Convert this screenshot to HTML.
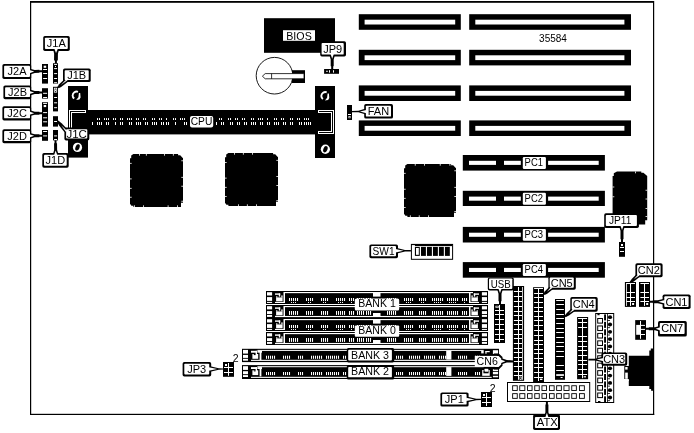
<!DOCTYPE html>
<html><head><meta charset="utf-8"><title>Motherboard layout</title>
<style>
html,body{margin:0;padding:0;background:#fff;}
body{width:694px;height:433px;overflow:hidden;font-family:"Liberation Sans",sans-serif;}
svg{display:block;will-change:transform;filter:grayscale(1)}
svg text{font-family:"Liberation Sans",sans-serif;fill:#000;}
</style></head><body>
<svg width="694" height="433" viewBox="0 0 694 433" shape-rendering="auto">
<rect x="0" y="0" width="694" height="433" fill="#fff"/>
<rect x="30.00" y="1.00" width="624.00" height="1.80" fill="#000" />
<rect x="30.00" y="1.00" width="1.20" height="414.00" fill="#000" />
<rect x="653.00" y="1.00" width="1.20" height="414.00" fill="#000" />
<rect x="30.00" y="413.80" width="624.20" height="1.20" fill="#000" />
<rect x="358.80" y="14.20" width="102.00" height="15.60" fill="#000" />
<rect x="364.60" y="19.70" width="90.60" height="4.80" fill="#fff" />
<rect x="469.20" y="14.20" width="161.80" height="15.60" fill="#000" />
<rect x="475.30" y="19.70" width="149.10" height="4.80" fill="#fff" />
<rect x="358.80" y="49.80" width="102.00" height="15.60" fill="#000" />
<rect x="364.60" y="55.30" width="90.60" height="4.80" fill="#fff" />
<rect x="469.20" y="49.80" width="161.80" height="15.60" fill="#000" />
<rect x="475.30" y="55.30" width="149.10" height="4.80" fill="#fff" />
<rect x="358.80" y="85.40" width="102.00" height="15.60" fill="#000" />
<rect x="364.60" y="90.90" width="90.60" height="4.80" fill="#fff" />
<rect x="469.20" y="85.40" width="161.80" height="15.60" fill="#000" />
<rect x="475.30" y="90.90" width="149.10" height="4.80" fill="#fff" />
<rect x="358.80" y="120.40" width="102.00" height="15.60" fill="#000" />
<rect x="364.60" y="125.90" width="90.60" height="4.80" fill="#fff" />
<rect x="469.20" y="120.40" width="161.80" height="15.60" fill="#000" />
<rect x="475.30" y="125.90" width="149.10" height="4.80" fill="#fff" />
<text x="553" y="42.3" font-size="10" text-anchor="middle">35584</text>
<rect x="462.80" y="155.00" width="142.10" height="15.60" fill="#000" />
<rect x="469.00" y="160.80" width="27.00" height="4.10" fill="#fff" />
<rect x="504.00" y="160.80" width="16.80" height="4.10" fill="#fff" />
<rect x="548.10" y="160.80" width="50.60" height="4.10" fill="#fff" />
<rect x="522.80" y="157.00" width="23.10" height="11.90" fill="#fff" rx="1.2"/>
<text x="533.8" y="166.00" font-size="11" text-anchor="middle" textLength="18.4" lengthAdjust="spacingAndGlyphs">PC1</text>
<rect x="462.80" y="190.80" width="142.10" height="15.20" fill="#000" />
<rect x="469.00" y="196.60" width="27.00" height="4.10" fill="#fff" />
<rect x="504.00" y="196.60" width="16.80" height="4.10" fill="#fff" />
<rect x="548.10" y="196.60" width="50.60" height="4.10" fill="#fff" />
<rect x="522.80" y="192.80" width="23.10" height="11.90" fill="#fff" rx="1.2"/>
<text x="533.8" y="201.80" font-size="11" text-anchor="middle" textLength="18.4" lengthAdjust="spacingAndGlyphs">PC2</text>
<rect x="462.80" y="226.90" width="142.10" height="15.60" fill="#000" />
<rect x="469.00" y="232.70" width="27.00" height="4.10" fill="#fff" />
<rect x="504.00" y="232.70" width="16.80" height="4.10" fill="#fff" />
<rect x="548.10" y="232.70" width="50.60" height="4.10" fill="#fff" />
<rect x="522.80" y="228.90" width="23.10" height="11.90" fill="#fff" rx="1.2"/>
<text x="533.8" y="237.90" font-size="11" text-anchor="middle" textLength="18.4" lengthAdjust="spacingAndGlyphs">PC3</text>
<rect x="462.80" y="262.10" width="142.10" height="15.60" fill="#000" />
<rect x="469.00" y="267.90" width="27.00" height="4.10" fill="#fff" />
<rect x="504.00" y="267.90" width="16.80" height="4.10" fill="#fff" />
<rect x="548.10" y="267.90" width="50.60" height="4.10" fill="#fff" />
<rect x="522.80" y="264.10" width="23.10" height="11.90" fill="#fff" rx="1.2"/>
<text x="533.8" y="273.10" font-size="11" text-anchor="middle" textLength="18.4" lengthAdjust="spacingAndGlyphs">PC4</text>
<polygon points="133.4,154.0 178.1,154.0 178.1,155.2 180.2,155.2 183.0,158.2 183.0,202.8 181.0,202.8 181.0,207.0 133.4,207.0 133.4,205.8 131.4,205.8 130.0,203.8 130.0,158.2 131.2,158.2 131.2,155.6" fill="#000"/>
<rect x="139.00" y="153.90" width="0.80" height="1.80" fill="#fff" />
<rect x="145.90" y="153.90" width="0.80" height="1.80" fill="#fff" />
<rect x="164.00" y="153.90" width="0.80" height="1.80" fill="#fff" />
<rect x="172.90" y="153.90" width="0.80" height="1.80" fill="#fff" />
<rect x="134.10" y="205.30" width="0.80" height="1.80" fill="#fff" />
<rect x="143.00" y="205.30" width="0.80" height="1.80" fill="#fff" />
<rect x="167.70" y="205.30" width="0.80" height="1.80" fill="#fff" />
<rect x="177.00" y="205.30" width="0.80" height="1.80" fill="#fff" />
<rect x="129.90" y="162.90" width="1.80" height="0.80" fill="#fff" />
<rect x="129.90" y="178.50" width="1.80" height="0.80" fill="#fff" />
<rect x="129.90" y="187.90" width="1.80" height="0.80" fill="#fff" />
<rect x="129.90" y="196.80" width="1.80" height="0.80" fill="#fff" />
<rect x="181.30" y="160.40" width="1.80" height="0.80" fill="#fff" />
<rect x="181.30" y="176.90" width="1.80" height="0.80" fill="#fff" />
<rect x="181.30" y="185.80" width="1.80" height="0.80" fill="#fff" />
<rect x="181.30" y="200.80" width="1.80" height="0.80" fill="#fff" />
<polygon points="228.4,153.0 273.1,153.0 273.1,154.2 275.2,154.2 278.0,157.2 278.0,201.8 276.0,201.8 276.0,206.0 228.4,206.0 228.4,204.8 226.4,204.8 225.0,202.8 225.0,157.2 226.2,157.2 226.2,154.6" fill="#000"/>
<rect x="234.00" y="152.90" width="0.80" height="1.80" fill="#fff" />
<rect x="242.90" y="152.90" width="0.80" height="1.80" fill="#fff" />
<rect x="252.10" y="152.90" width="0.80" height="1.80" fill="#fff" />
<rect x="238.00" y="204.30" width="0.80" height="1.80" fill="#fff" />
<rect x="246.90" y="204.30" width="0.80" height="1.80" fill="#fff" />
<rect x="256.10" y="204.30" width="0.80" height="1.80" fill="#fff" />
<rect x="224.90" y="162.00" width="1.80" height="0.80" fill="#fff" />
<rect x="224.90" y="177.70" width="1.80" height="0.80" fill="#fff" />
<rect x="224.90" y="186.90" width="1.80" height="0.80" fill="#fff" />
<rect x="224.90" y="196.00" width="1.80" height="0.80" fill="#fff" />
<rect x="276.30" y="159.90" width="1.80" height="0.80" fill="#fff" />
<rect x="276.30" y="176.10" width="1.80" height="0.80" fill="#fff" />
<rect x="276.30" y="185.00" width="1.80" height="0.80" fill="#fff" />
<rect x="276.30" y="200.30" width="1.80" height="0.80" fill="#fff" />
<polygon points="407.4,164.0 451.1,164.0 451.1,165.2 453.2,165.2 456.0,168.2 456.0,212.8 454.0,212.8 454.0,217.0 407.4,217.0 407.4,215.8 405.4,215.8 404.0,213.8 404.0,168.2 405.2,168.2 405.2,165.6" fill="#000"/>
<rect x="414.80" y="163.90" width="0.80" height="1.80" fill="#fff" />
<rect x="424.00" y="163.90" width="0.80" height="1.80" fill="#fff" />
<rect x="439.80" y="163.90" width="0.80" height="1.80" fill="#fff" />
<rect x="449.50" y="163.90" width="0.80" height="1.80" fill="#fff" />
<rect x="409.90" y="215.30" width="0.80" height="1.80" fill="#fff" />
<rect x="418.80" y="215.30" width="0.80" height="1.80" fill="#fff" />
<rect x="428.00" y="215.30" width="0.80" height="1.80" fill="#fff" />
<rect x="403.90" y="172.90" width="1.80" height="0.80" fill="#fff" />
<rect x="403.90" y="188.80" width="1.80" height="0.80" fill="#fff" />
<rect x="403.90" y="197.90" width="1.80" height="0.80" fill="#fff" />
<rect x="403.90" y="207.10" width="1.80" height="0.80" fill="#fff" />
<rect x="454.30" y="170.40" width="1.80" height="0.80" fill="#fff" />
<rect x="454.30" y="186.90" width="1.80" height="0.80" fill="#fff" />
<rect x="454.30" y="196.10" width="1.80" height="0.80" fill="#fff" />
<rect x="454.30" y="211.10" width="1.80" height="0.80" fill="#fff" />
<polygon points="617.0,171.6 641.3,171.6 641.3,172.8 643.4,172.8 647.2,176.0 647.2,220.2 645.2,220.2 645.2,224.6 617.0,224.6 617.0,223.4 614.0,223.4 612.6,221.2 612.6,176.0 613.8,176.0 613.8,173.2" fill="#000"/>
<rect x="635.20" y="171.50" width="0.80" height="1.80" fill="#fff" />
<rect x="612.50" y="186.60" width="1.80" height="0.80" fill="#fff" />
<rect x="612.50" y="196.40" width="1.80" height="0.80" fill="#fff" />
<rect x="645.50" y="189.80" width="1.80" height="0.80" fill="#fff" />
<rect x="645.50" y="198.60" width="1.80" height="0.80" fill="#fff" />
<rect x="645.50" y="208.00" width="1.80" height="0.80" fill="#fff" />
<rect x="645.50" y="216.20" width="1.80" height="0.80" fill="#fff" />
<rect x="264.00" y="18.20" width="71.00" height="34.60" fill="#000" />
<rect x="283.00" y="30.20" width="32.00" height="10.60" fill="#fff" />
<text x="299" y="39.6" font-size="11" text-anchor="middle" textLength="25.5" lengthAdjust="spacingAndGlyphs">BIOS</text>
<circle cx="274.5" cy="75.7" r="18.3" fill="#fff" stroke="#000" stroke-width="0.9"/>
<rect x="292.00" y="70.20" width="13.00" height="12.80" fill="#000" />
<polygon points="262.4,76.2 265.2,73.6 304,73.6 304,78.8 265.2,78.8" fill="#fff" stroke="#000" stroke-width="0.8"/>
<line x1="271.6" y1="73.6" x2="271.6" y2="78.8" stroke="#000" stroke-width="0.8"/>
<rect x="68.00" y="86.00" width="20.00" height="71.60" fill="#000" />
<rect x="315.00" y="86.00" width="20.00" height="72.00" fill="#000" />
<rect x="87.00" y="110.00" width="229.00" height="24.40" fill="#000" />
<path d="M78.0,91.8 A4,4.2 0 0 0 72.60000000000001,95.5 A4,4 0 0 0 74.2,98.6" fill="none" stroke="#fff" stroke-width="1.9"/>
<polygon points="80.2,93.0 80.6,97.6 79.4,99.6 76.2,100.0 78.4,97.2 78.9,93.0" fill="#fff"/>
<ellipse cx="77.5" cy="147.4" rx="4.6" ry="4.7" fill="#fff"/>
<ellipse cx="77.5" cy="147.4" rx="2.0" ry="3.3" transform="rotate(22 77.5 147.4)" fill="#000"/>
<path d="M326.70000000000005,92.3 A4,4.2 0 0 0 321.3,96.0 A4,4 0 0 0 322.90000000000003,99.1" fill="none" stroke="#fff" stroke-width="1.9"/>
<polygon points="328.9,93.5 329.3,98.1 328.1,100.1 324.9,100.5 327.1,97.7 327.6,93.5" fill="#fff"/>
<ellipse cx="325.4" cy="149.3" rx="4.6" ry="4.7" fill="#fff"/>
<ellipse cx="325.4" cy="149.3" rx="2.0" ry="3.3" transform="rotate(22 325.4 149.3)" fill="#000"/>
<rect x="69.00" y="110.00" width="17.00" height="1.00" fill="#fff" />
<rect x="69.00" y="110.00" width="1.00" height="24.00" fill="#fff" />
<rect x="71.00" y="112.00" width="15.00" height="1.00" fill="#fff" />
<rect x="71.00" y="112.00" width="1.00" height="22.00" fill="#fff" />
<rect x="85.00" y="110.00" width="1.00" height="3.00" fill="#fff" />
<rect x="318.00" y="110.00" width="16.00" height="1.00" fill="#fff" />
<rect x="333.00" y="110.00" width="1.00" height="24.00" fill="#fff" />
<rect x="318.00" y="133.00" width="16.00" height="1.00" fill="#fff" />
<rect x="318.00" y="112.00" width="14.00" height="1.00" fill="#fff" />
<rect x="331.00" y="112.00" width="1.00" height="20.00" fill="#fff" />
<rect x="318.00" y="131.00" width="14.00" height="1.00" fill="#fff" />
<rect x="318.00" y="110.00" width="1.00" height="3.00" fill="#fff" />
<rect x="318.00" y="131.00" width="1.00" height="3.00" fill="#fff" />
<rect x="97.00" y="118.10" width="1.00" height="1.90" fill="#fff" />
<rect x="99.00" y="118.10" width="1.00" height="1.90" fill="#fff" />
<rect x="104.00" y="118.10" width="1.00" height="1.90" fill="#fff" />
<rect x="106.00" y="118.10" width="1.00" height="1.90" fill="#fff" />
<rect x="108.00" y="118.10" width="1.00" height="1.90" fill="#fff" />
<rect x="113.00" y="118.10" width="1.00" height="1.90" fill="#fff" />
<rect x="115.00" y="118.10" width="1.00" height="1.90" fill="#fff" />
<rect x="120.00" y="118.10" width="1.00" height="1.90" fill="#fff" />
<rect x="122.00" y="118.10" width="1.00" height="1.90" fill="#fff" />
<rect x="127.00" y="118.10" width="1.00" height="1.90" fill="#fff" />
<rect x="129.00" y="118.10" width="1.00" height="1.90" fill="#fff" />
<rect x="131.00" y="118.10" width="1.00" height="1.90" fill="#fff" />
<rect x="136.00" y="118.10" width="1.00" height="1.90" fill="#fff" />
<rect x="138.00" y="118.10" width="1.00" height="1.90" fill="#fff" />
<rect x="143.00" y="118.10" width="1.00" height="1.90" fill="#fff" />
<rect x="145.00" y="118.10" width="1.00" height="1.90" fill="#fff" />
<rect x="152.00" y="118.10" width="1.00" height="1.90" fill="#fff" />
<rect x="154.00" y="118.10" width="1.00" height="1.90" fill="#fff" />
<rect x="159.00" y="118.10" width="1.00" height="1.90" fill="#fff" />
<rect x="161.00" y="118.10" width="1.00" height="1.90" fill="#fff" />
<rect x="166.00" y="118.10" width="1.00" height="1.90" fill="#fff" />
<rect x="173.00" y="118.10" width="1.00" height="1.90" fill="#fff" />
<rect x="175.00" y="118.10" width="1.00" height="1.90" fill="#fff" />
<rect x="180.00" y="118.10" width="1.00" height="1.90" fill="#fff" />
<rect x="182.00" y="118.10" width="1.00" height="1.90" fill="#fff" />
<rect x="184.00" y="118.10" width="1.00" height="1.90" fill="#fff" />
<rect x="219.00" y="118.10" width="1.00" height="1.90" fill="#fff" />
<rect x="221.00" y="118.10" width="1.00" height="1.90" fill="#fff" />
<rect x="228.00" y="118.10" width="1.00" height="1.90" fill="#fff" />
<rect x="230.00" y="118.10" width="1.00" height="1.90" fill="#fff" />
<rect x="235.00" y="118.10" width="1.00" height="1.90" fill="#fff" />
<rect x="237.00" y="118.10" width="1.00" height="1.90" fill="#fff" />
<rect x="242.00" y="118.10" width="1.00" height="1.90" fill="#fff" />
<rect x="244.00" y="118.10" width="1.00" height="1.90" fill="#fff" />
<rect x="251.00" y="118.10" width="1.00" height="1.90" fill="#fff" />
<rect x="253.00" y="118.10" width="1.00" height="1.90" fill="#fff" />
<rect x="258.00" y="118.10" width="1.00" height="1.90" fill="#fff" />
<rect x="260.00" y="118.10" width="1.00" height="1.90" fill="#fff" />
<rect x="262.00" y="118.10" width="1.00" height="1.90" fill="#fff" />
<rect x="267.00" y="118.10" width="1.00" height="1.90" fill="#fff" />
<rect x="274.00" y="118.10" width="1.00" height="1.90" fill="#fff" />
<rect x="276.00" y="118.10" width="1.00" height="1.90" fill="#fff" />
<rect x="281.00" y="118.10" width="1.00" height="1.90" fill="#fff" />
<rect x="283.00" y="118.10" width="1.00" height="1.90" fill="#fff" />
<rect x="290.00" y="118.10" width="1.00" height="1.90" fill="#fff" />
<rect x="292.00" y="118.10" width="1.00" height="1.90" fill="#fff" />
<rect x="297.00" y="118.10" width="1.00" height="1.90" fill="#fff" />
<rect x="299.00" y="118.10" width="1.00" height="1.90" fill="#fff" />
<rect x="304.00" y="118.10" width="1.00" height="1.90" fill="#fff" />
<rect x="306.00" y="118.10" width="1.00" height="1.90" fill="#fff" />
<rect x="308.00" y="118.10" width="1.00" height="1.90" fill="#fff" />
<rect x="92.00" y="122.00" width="1.00" height="3.00" fill="#fff" />
<rect x="97.00" y="122.00" width="1.00" height="3.00" fill="#fff" />
<rect x="99.00" y="122.00" width="1.00" height="3.00" fill="#fff" />
<rect x="101.00" y="122.00" width="1.00" height="3.00" fill="#fff" />
<rect x="106.00" y="122.00" width="1.00" height="3.00" fill="#fff" />
<rect x="108.00" y="122.00" width="1.00" height="3.00" fill="#fff" />
<rect x="115.00" y="122.00" width="1.00" height="3.00" fill="#fff" />
<rect x="120.00" y="122.00" width="1.00" height="3.00" fill="#fff" />
<rect x="122.00" y="122.00" width="1.00" height="3.00" fill="#fff" />
<rect x="129.00" y="122.00" width="1.00" height="3.00" fill="#fff" />
<rect x="131.00" y="122.00" width="1.00" height="3.00" fill="#fff" />
<rect x="136.00" y="122.00" width="1.00" height="3.00" fill="#fff" />
<rect x="138.00" y="122.00" width="1.00" height="3.00" fill="#fff" />
<rect x="140.00" y="122.00" width="1.00" height="3.00" fill="#fff" />
<rect x="145.00" y="122.00" width="1.00" height="3.00" fill="#fff" />
<rect x="147.00" y="122.00" width="1.00" height="3.00" fill="#fff" />
<rect x="152.00" y="122.00" width="1.00" height="3.00" fill="#fff" />
<rect x="154.00" y="122.00" width="1.00" height="3.00" fill="#fff" />
<rect x="156.00" y="122.00" width="1.00" height="3.00" fill="#fff" />
<rect x="161.00" y="122.00" width="1.00" height="3.00" fill="#fff" />
<rect x="163.00" y="122.00" width="1.00" height="3.00" fill="#fff" />
<rect x="166.00" y="122.00" width="1.00" height="3.00" fill="#fff" />
<rect x="168.00" y="122.00" width="1.00" height="3.00" fill="#fff" />
<rect x="175.00" y="122.00" width="1.00" height="3.00" fill="#fff" />
<rect x="184.00" y="122.00" width="1.00" height="3.00" fill="#fff" />
<rect x="186.00" y="122.00" width="1.00" height="3.00" fill="#fff" />
<rect x="216.00" y="122.00" width="1.00" height="3.00" fill="#fff" />
<rect x="221.00" y="122.00" width="1.00" height="3.00" fill="#fff" />
<rect x="223.00" y="122.00" width="1.00" height="3.00" fill="#fff" />
<rect x="230.00" y="122.00" width="1.00" height="3.00" fill="#fff" />
<rect x="232.00" y="122.00" width="1.00" height="3.00" fill="#fff" />
<rect x="237.00" y="122.00" width="1.00" height="3.00" fill="#fff" />
<rect x="239.00" y="122.00" width="1.00" height="3.00" fill="#fff" />
<rect x="244.00" y="122.00" width="1.00" height="3.00" fill="#fff" />
<rect x="246.00" y="122.00" width="1.00" height="3.00" fill="#fff" />
<rect x="251.00" y="122.00" width="1.00" height="3.00" fill="#fff" />
<rect x="253.00" y="122.00" width="1.00" height="3.00" fill="#fff" />
<rect x="255.00" y="122.00" width="1.00" height="3.00" fill="#fff" />
<rect x="260.00" y="122.00" width="1.00" height="3.00" fill="#fff" />
<rect x="262.00" y="122.00" width="1.00" height="3.00" fill="#fff" />
<rect x="267.00" y="122.00" width="1.00" height="3.00" fill="#fff" />
<rect x="269.00" y="122.00" width="1.00" height="3.00" fill="#fff" />
<rect x="274.00" y="122.00" width="1.00" height="3.00" fill="#fff" />
<rect x="276.00" y="122.00" width="1.00" height="3.00" fill="#fff" />
<rect x="278.00" y="122.00" width="1.00" height="3.00" fill="#fff" />
<rect x="283.00" y="122.00" width="1.00" height="3.00" fill="#fff" />
<rect x="285.00" y="122.00" width="1.00" height="3.00" fill="#fff" />
<rect x="290.00" y="122.00" width="1.00" height="3.00" fill="#fff" />
<rect x="292.00" y="122.00" width="1.00" height="3.00" fill="#fff" />
<rect x="299.00" y="122.00" width="1.00" height="3.00" fill="#fff" />
<rect x="301.00" y="122.00" width="1.00" height="3.00" fill="#fff" />
<rect x="304.00" y="122.00" width="1.00" height="3.00" fill="#fff" />
<rect x="306.00" y="122.00" width="1.00" height="3.00" fill="#fff" />
<rect x="308.00" y="122.00" width="1.00" height="3.00" fill="#fff" />
<rect x="310.00" y="122.00" width="1.00" height="3.00" fill="#fff" />
<rect x="190.00" y="116.00" width="23.20" height="11.60" fill="#fff" rx="2"/>
<text x="201.5" y="124.9" font-size="11" text-anchor="middle" textLength="21.6" lengthAdjust="spacingAndGlyphs">CPU</text>
<rect x="42.00" y="64.00" width="6.00" height="19.60" fill="#000" />
<rect x="43.10" y="69.00" width="4.00" height="1.00" fill="#fff" />
<rect x="43.10" y="73.00" width="4.00" height="1.00" fill="#fff" />
<rect x="43.10" y="78.00" width="4.00" height="1.00" fill="#fff" />
<rect x="43.70" y="65.70" width="2.50" height="2.10" fill="#fff" />
<rect x="42.00" y="88.20" width="6.00" height="10.40" fill="#000" />
<rect x="43.10" y="92.80" width="4.00" height="1.00" fill="#fff" />
<rect x="43.10" y="97.00" width="4.00" height="1.00" fill="#fff" />
<rect x="42.00" y="102.20" width="6.00" height="24.40" fill="#000" />
<rect x="43.10" y="102.90" width="4.00" height="1.00" fill="#fff" />
<rect x="43.10" y="112.10" width="4.00" height="1.00" fill="#fff" />
<rect x="43.10" y="117.30" width="4.00" height="1.00" fill="#fff" />
<rect x="43.10" y="121.30" width="4.00" height="1.00" fill="#fff" />
<rect x="43.70" y="105.00" width="2.50" height="2.10" fill="#fff" />
<rect x="42.00" y="130.00" width="6.00" height="10.80" fill="#000" />
<rect x="43.10" y="131.00" width="4.00" height="1.00" fill="#fff" />
<rect x="43.10" y="135.40" width="4.00" height="1.00" fill="#fff" />
<rect x="53.00" y="63.20" width="5.00" height="20.40" fill="#000" />
<rect x="54.10" y="63.90" width="3.00" height="1.00" fill="#fff" />
<rect x="54.10" y="68.10" width="3.00" height="1.00" fill="#fff" />
<rect x="54.10" y="73.10" width="3.00" height="1.00" fill="#fff" />
<rect x="54.10" y="78.00" width="3.00" height="1.00" fill="#fff" />
<rect x="54.10" y="82.20" width="3.00" height="1.00" fill="#fff" />
<rect x="55.00" y="66.00" width="1.00" height="1.00" fill="#fff" />
<rect x="53.00" y="86.80" width="5.00" height="24.60" fill="#000" />
<rect x="54.10" y="97.00" width="3.00" height="1.00" fill="#fff" />
<rect x="54.10" y="102.30" width="3.00" height="1.00" fill="#fff" />
<rect x="54.10" y="107.20" width="3.00" height="1.00" fill="#fff" />
<rect x="53.90" y="87.80" width="3.20" height="4.80" fill="#fff" />
<rect x="54.70" y="88.60" width="1.60" height="3.20" fill="#000" />
<rect x="55.00" y="89.50" width="1.00" height="1.40" fill="#fff" />
<rect x="53.00" y="116.20" width="5.00" height="10.40" fill="#000" />
<rect x="54.10" y="121.00" width="3.00" height="1.00" fill="#fff" />
<rect x="53.00" y="130.00" width="5.00" height="10.40" fill="#000" />
<rect x="54.10" y="135.40" width="3.00" height="1.00" fill="#fff" />
<rect x="54.10" y="139.00" width="3.00" height="1.00" fill="#fff" />
<polygon points="53.00,48.86 54.13,53.67 54.04,60.47 54.94,60.49 54.90,63.49 56.90,63.51 56.94,60.51 57.84,60.53 57.93,53.73 59.20,48.94" fill="#000"/>
<rect x="43.20" y="36.00" width="26.60" height="14.90" rx="1.7" fill="#000"/>
<rect x="44.90" y="37.70" width="22.90" height="11.20" rx="0.9" fill="#fff"/>
<polygon points="54.31,48.38 56.04,53.10 57.91,48.42" fill="#fff"/>
<text x="56.35" y="47.24" font-size="11" text-anchor="middle">J1A</text>
<polygon points="30.07,74.50 34.83,72.98 39.44,72.87 39.43,72.37 42.42,72.30 42.38,70.30 39.38,70.37 39.36,69.87 34.76,69.98 29.93,68.70" fill="#000"/>
<rect x="2.40" y="64.00" width="28.80" height="15.00" rx="1.7" fill="#000"/>
<rect x="4.10" y="65.80" width="25.90" height="11.10" rx="0.9" fill="#fff"/>
<polygon points="29.54,73.21 34.20,71.50 29.46,70.01" fill="#fff"/>
<text x="17.05" y="75.29" font-size="11" text-anchor="middle">J2A</text>
<polygon points="65.22,78.52 58.93,84.54 57.41,86.92 58.59,88.28 61.16,87.10 67.98,81.68" fill="#000"/>
<rect x="63.00" y="68.50" width="27.70" height="13.60" rx="1.7" fill="#000"/>
<rect x="64.70" y="70.20" width="24.00" height="9.90" rx="0.9" fill="#fff"/>
<polygon points="66.45,79.17 60.95,85.03 67.50,80.37" fill="#fff"/>
<text x="76.70" y="79.09" font-size="11" text-anchor="middle">J1B</text>
<polygon points="30.00,95.40 34.80,94.00 39.40,94.00 39.40,93.50 42.40,93.50 42.40,91.50 39.40,91.50 39.40,91.00 34.80,91.00 30.00,89.60" fill="#000"/>
<rect x="3.40" y="85.40" width="27.80" height="13.80" rx="1.7" fill="#000"/>
<rect x="5.10" y="87.20" width="24.90" height="9.90" rx="0.9" fill="#fff"/>
<polygon points="29.50,94.10 34.20,92.50 29.50,90.90" fill="#fff"/>
<text x="17.55" y="96.09" font-size="11" text-anchor="middle">J2B</text>
<polygon points="30.00,116.10 34.80,114.70 39.40,114.70 39.40,114.20 42.40,114.20 42.40,112.20 39.40,112.20 39.40,111.70 34.80,111.70 30.00,110.30" fill="#000"/>
<rect x="2.40" y="106.20" width="28.80" height="14.20" rx="1.7" fill="#000"/>
<rect x="4.10" y="108.00" width="25.90" height="10.30" rx="0.9" fill="#fff"/>
<polygon points="29.50,114.80 34.20,113.20 29.50,111.60" fill="#fff"/>
<text x="17.05" y="117.09" font-size="11" text-anchor="middle">J2C</text>
<polygon points="30.00,138.70 34.80,137.30 39.40,137.30 39.40,136.80 42.40,136.80 42.40,134.80 39.40,134.80 39.40,134.30 34.80,134.30 30.00,132.90" fill="#000"/>
<rect x="2.40" y="129.30" width="28.80" height="13.90" rx="1.7" fill="#000"/>
<rect x="4.10" y="131.10" width="25.90" height="10.00" rx="0.9" fill="#fff"/>
<polygon points="29.50,137.40 34.20,135.80 29.50,134.20" fill="#fff"/>
<text x="17.05" y="140.04" font-size="11" text-anchor="middle">J2D</text>
<polygon points="67.67,129.41 61.61,123.16 58.27,120.60 56.93,121.80 59.06,125.41 64.53,132.19" fill="#000"/>
<rect x="64.40" y="127.50" width="24.90" height="13.00" rx="1.7" fill="#000"/>
<rect x="66.10" y="129.20" width="21.20" height="9.30" rx="0.9" fill="#fff"/>
<polygon points="67.03,130.64 61.13,125.18 65.83,131.70" fill="#fff"/>
<text x="76.70" y="137.79" font-size="11" text-anchor="middle" textLength="20.5" lengthAdjust="spacingAndGlyphs">J1C</text>
<polygon points="58.60,154.76 57.13,149.98 57.04,143.18 56.54,143.19 56.50,140.19 54.50,140.21 54.54,143.21 54.04,143.22 54.13,150.02 52.80,154.84" fill="#000"/>
<rect x="42.30" y="153.10" width="26.40" height="14.60" rx="1.7" fill="#000"/>
<rect x="44.00" y="154.80" width="22.70" height="10.90" rx="0.9" fill="#fff"/>
<polygon points="57.31,155.28 55.64,150.60 54.11,155.32" fill="#fff"/>
<text x="55.35" y="164.19" font-size="11" text-anchor="middle">J1D</text>
<rect x="324.10" y="69.00" width="14.90" height="4.80" fill="#000" />
<rect x="326.00" y="70.80" width="1.90" height="0.90" fill="#fff" />
<rect x="329.00" y="70.20" width="1.00" height="2.40" fill="#fff" />
<rect x="333.00" y="70.20" width="1.00" height="2.40" fill="#fff" />
<polygon points="329.30,54.60 330.70,59.40 330.70,66.20 331.20,66.20 331.20,69.20 333.20,69.20 333.20,66.20 333.70,66.20 333.70,59.40 335.10,54.60" fill="#000"/>
<rect x="320.20" y="41.20" width="25.80" height="15.30" rx="1.7" fill="#000"/>
<rect x="321.60" y="43.10" width="22.10" height="11.50" rx="0.9" fill="#fff"/>
<polygon points="330.60,54.10 332.20,58.80 333.80,54.10" fill="#fff"/>
<text x="332.65" y="52.79" font-size="11" text-anchor="middle">JP9</text>
<rect x="347.00" y="105.00" width="5.00" height="15.00" fill="#000" />
<rect x="348.00" y="114.00" width="3.00" height="1.00" fill="#fff" />
<rect x="348.50" y="116.00" width="2.00" height="2.20" fill="#fff" />
<rect x="349.10" y="116.70" width="0.80" height="0.90" fill="#000" />
<polygon points="365.90,108.60 358.40,110.85 351.50,110.90 351.50,112.30 358.40,112.35 365.90,114.60" fill="#000"/>
<rect x="364.20" y="104.00" width="28.80" height="14.60" rx="1.7" fill="#000"/>
<rect x="365.90" y="105.70" width="25.10" height="10.90" rx="0.9" fill="#fff"/>
<polygon points="366.40,109.90 359.90,111.60 366.40,113.30" fill="#fff"/>
<text x="378.45" y="115.09" font-size="11" text-anchor="middle">FAN</text>
<rect x="619.00" y="242.00" width="6.00" height="14.80" fill="#000" />
<rect x="621.00" y="244.00" width="2.00" height="2.00" fill="#fff" />
<rect x="620.00" y="247.00" width="4.00" height="1.00" fill="#fff" />
<rect x="620.00" y="251.00" width="4.00" height="1.00" fill="#fff" />
<polygon points="619.10,225.90 620.50,230.70 620.50,239.20 621.00,239.20 621.00,242.20 623.00,242.20 623.00,239.20 623.50,239.20 623.50,230.70 624.90,225.90" fill="#000"/>
<rect x="604.20" y="213.20" width="34.70" height="14.70" rx="1.7" fill="#000"/>
<rect x="605.80" y="215.00" width="31.10" height="10.90" rx="0.9" fill="#fff"/>
<polygon points="620.40,225.40 622.00,230.10 623.60,225.40" fill="#fff"/>
<text x="620.15" y="224.39" font-size="11" text-anchor="middle" textLength="22.5" lengthAdjust="spacingAndGlyphs">JP11</text>
<polygon points="396.02,253.80 405.00,251.49 410.90,251.40 410.90,250.00 404.99,249.99 395.98,247.80" fill="#000"/>
<rect x="369.40" y="244.40" width="28.60" height="13.80" rx="1.7" fill="#000"/>
<rect x="371.10" y="246.10" width="24.90" height="10.10" rx="0.9" fill="#fff"/>
<polygon points="395.51,252.50 403.50,250.75 395.49,249.10" fill="#fff"/>
<text x="383.55" y="255.09" font-size="11" text-anchor="middle" textLength="22" lengthAdjust="spacingAndGlyphs">SW1</text>
<rect x="410.90" y="243.90" width="42.20" height="15.90" fill="#000" />
<rect x="411.90" y="245.10" width="40.20" height="13.70" fill="#fff" />
<rect x="414.90" y="245.00" width="37.20" height="1.10" fill="#000" />
<rect x="414.90" y="246.90" width="4.90" height="9.00" fill="#000" />
<rect x="416.00" y="248.00" width="2.80" height="6.80" fill="#fff" />
<rect x="421.00" y="246.90" width="4.90" height="9.00" fill="#000" />
<rect x="426.98" y="246.90" width="4.90" height="9.00" fill="#000" />
<rect x="432.96" y="246.90" width="4.90" height="9.00" fill="#000" />
<rect x="438.94" y="246.90" width="4.90" height="9.00" fill="#000" />
<rect x="444.92" y="246.90" width="4.90" height="9.00" fill="#000" />
<rect x="266.00" y="291.00" width="222.00" height="13.00" fill="#000" />
<rect x="267.00" y="292.20" width="5.10" height="3.30" fill="#fff" />
<rect x="481.90" y="292.20" width="5.10" height="3.30" fill="#fff" />
<rect x="267.00" y="297.10" width="5.10" height="3.80" fill="#fff" />
<rect x="481.90" y="297.10" width="5.10" height="3.80" fill="#fff" />
<rect x="267.00" y="301.90" width="5.10" height="1.05" fill="#fff" />
<rect x="481.90" y="301.90" width="5.10" height="1.05" fill="#fff" />
<rect x="275.00" y="293.40" width="5.20" height="1.40" fill="#fff" />
<rect x="278.80" y="293.40" width="1.40" height="3.20" fill="#fff" />
<rect x="276.10" y="297.40" width="6.50" height="3.90" fill="#fff" />
<rect x="276.10" y="296.30" width="1.30" height="1.20" fill="#fff" />
<rect x="281.30" y="295.40" width="1.30" height="2.10" fill="#fff" />
<rect x="275.00" y="301.90" width="10.00" height="1.10" fill="#fff" />
<rect x="283.50" y="293.00" width="1.50" height="10.00" fill="#fff" />
<rect x="473.80" y="293.40" width="5.20" height="1.40" fill="#fff" />
<rect x="473.80" y="293.40" width="1.40" height="3.20" fill="#fff" />
<rect x="471.40" y="297.40" width="6.50" height="3.90" fill="#fff" />
<rect x="476.60" y="296.30" width="1.30" height="1.20" fill="#fff" />
<rect x="471.40" y="295.40" width="1.30" height="2.10" fill="#fff" />
<rect x="469.00" y="301.90" width="10.00" height="1.10" fill="#fff" />
<rect x="469.00" y="293.00" width="1.50" height="10.00" fill="#fff" />
<rect x="283.50" y="292.00" width="189.50" height="1.15" fill="#fff" />
<rect x="373.00" y="293.00" width="7.50" height="3.60" fill="#fff" />
<rect x="289.00" y="298.00" width="1.05" height="3.00" fill="#fff" />
<rect x="291.00" y="298.00" width="1.05" height="3.00" fill="#fff" />
<rect x="291.00" y="301.95" width="1.00" height="1.00" fill="#fff" />
<rect x="293.00" y="298.00" width="1.05" height="3.00" fill="#fff" />
<rect x="293.00" y="301.95" width="1.00" height="1.00" fill="#fff" />
<rect x="295.00" y="298.00" width="1.05" height="3.00" fill="#fff" />
<rect x="295.00" y="301.95" width="1.00" height="1.00" fill="#fff" />
<rect x="297.00" y="298.00" width="1.05" height="3.00" fill="#fff" />
<rect x="306.00" y="298.00" width="1.05" height="3.00" fill="#fff" />
<rect x="308.00" y="298.00" width="1.05" height="3.00" fill="#fff" />
<rect x="308.00" y="301.95" width="1.00" height="1.00" fill="#fff" />
<rect x="310.00" y="298.00" width="1.05" height="3.00" fill="#fff" />
<rect x="310.00" y="301.95" width="1.00" height="1.00" fill="#fff" />
<rect x="312.00" y="298.00" width="1.05" height="3.00" fill="#fff" />
<rect x="321.00" y="298.00" width="1.05" height="3.00" fill="#fff" />
<rect x="323.00" y="298.00" width="1.05" height="3.00" fill="#fff" />
<rect x="323.00" y="301.95" width="1.00" height="1.00" fill="#fff" />
<rect x="325.00" y="298.00" width="1.05" height="3.00" fill="#fff" />
<rect x="325.00" y="301.95" width="1.00" height="1.00" fill="#fff" />
<rect x="327.00" y="298.00" width="1.05" height="3.00" fill="#fff" />
<rect x="336.00" y="298.00" width="1.05" height="3.00" fill="#fff" />
<rect x="338.00" y="298.00" width="1.05" height="3.00" fill="#fff" />
<rect x="338.00" y="301.95" width="1.00" height="1.00" fill="#fff" />
<rect x="340.00" y="298.00" width="1.05" height="3.00" fill="#fff" />
<rect x="340.00" y="301.95" width="1.00" height="1.00" fill="#fff" />
<rect x="342.00" y="298.00" width="1.05" height="3.00" fill="#fff" />
<rect x="342.00" y="301.95" width="1.00" height="1.00" fill="#fff" />
<rect x="344.00" y="298.00" width="1.05" height="3.00" fill="#fff" />
<rect x="349.00" y="298.00" width="1.05" height="3.00" fill="#fff" />
<rect x="351.00" y="298.00" width="1.05" height="3.00" fill="#fff" />
<rect x="351.00" y="301.95" width="1.00" height="1.00" fill="#fff" />
<rect x="353.00" y="298.00" width="1.05" height="3.00" fill="#fff" />
<rect x="357.00" y="298.00" width="1.05" height="3.00" fill="#fff" />
<rect x="359.00" y="298.00" width="1.05" height="3.00" fill="#fff" />
<rect x="359.00" y="301.95" width="1.00" height="1.00" fill="#fff" />
<rect x="361.00" y="298.00" width="1.05" height="3.00" fill="#fff" />
<rect x="361.00" y="301.95" width="1.00" height="1.00" fill="#fff" />
<rect x="363.00" y="298.00" width="1.05" height="3.00" fill="#fff" />
<rect x="366.00" y="298.00" width="1.05" height="3.00" fill="#fff" />
<rect x="368.00" y="298.00" width="1.05" height="3.00" fill="#fff" />
<rect x="368.00" y="301.95" width="1.00" height="1.00" fill="#fff" />
<rect x="370.00" y="298.00" width="1.05" height="3.00" fill="#fff" />
<rect x="387.00" y="298.00" width="1.05" height="3.00" fill="#fff" />
<rect x="389.00" y="298.00" width="1.05" height="3.00" fill="#fff" />
<rect x="389.00" y="301.95" width="1.00" height="1.00" fill="#fff" />
<rect x="391.00" y="298.00" width="1.05" height="3.00" fill="#fff" />
<rect x="391.00" y="301.95" width="1.00" height="1.00" fill="#fff" />
<rect x="393.00" y="298.00" width="1.05" height="3.00" fill="#fff" />
<rect x="393.00" y="301.95" width="1.00" height="1.00" fill="#fff" />
<rect x="395.00" y="298.00" width="1.05" height="3.00" fill="#fff" />
<rect x="404.00" y="298.00" width="1.05" height="3.00" fill="#fff" />
<rect x="406.00" y="298.00" width="1.05" height="3.00" fill="#fff" />
<rect x="406.00" y="301.95" width="1.00" height="1.00" fill="#fff" />
<rect x="408.00" y="298.00" width="1.05" height="3.00" fill="#fff" />
<rect x="408.00" y="301.95" width="1.00" height="1.00" fill="#fff" />
<rect x="410.00" y="298.00" width="1.05" height="3.00" fill="#fff" />
<rect x="410.00" y="301.95" width="1.00" height="1.00" fill="#fff" />
<rect x="412.00" y="298.00" width="1.05" height="3.00" fill="#fff" />
<rect x="419.00" y="298.00" width="1.05" height="3.00" fill="#fff" />
<rect x="421.00" y="298.00" width="1.05" height="3.00" fill="#fff" />
<rect x="421.00" y="301.95" width="1.00" height="1.00" fill="#fff" />
<rect x="423.00" y="298.00" width="1.05" height="3.00" fill="#fff" />
<rect x="423.00" y="301.95" width="1.00" height="1.00" fill="#fff" />
<rect x="425.00" y="298.00" width="1.05" height="3.00" fill="#fff" />
<rect x="432.00" y="298.00" width="1.05" height="3.00" fill="#fff" />
<rect x="434.00" y="298.00" width="1.05" height="3.00" fill="#fff" />
<rect x="434.00" y="301.95" width="1.00" height="1.00" fill="#fff" />
<rect x="436.00" y="298.00" width="1.05" height="3.00" fill="#fff" />
<rect x="436.00" y="301.95" width="1.00" height="1.00" fill="#fff" />
<rect x="438.00" y="298.00" width="1.05" height="3.00" fill="#fff" />
<rect x="438.00" y="301.95" width="1.00" height="1.00" fill="#fff" />
<rect x="440.00" y="298.00" width="1.05" height="3.00" fill="#fff" />
<rect x="440.00" y="301.95" width="1.00" height="1.00" fill="#fff" />
<rect x="442.00" y="298.00" width="1.05" height="3.00" fill="#fff" />
<rect x="447.00" y="298.00" width="1.05" height="3.00" fill="#fff" />
<rect x="449.00" y="298.00" width="1.05" height="3.00" fill="#fff" />
<rect x="449.00" y="301.95" width="1.00" height="1.00" fill="#fff" />
<rect x="451.00" y="298.00" width="1.05" height="3.00" fill="#fff" />
<rect x="451.00" y="301.95" width="1.00" height="1.00" fill="#fff" />
<rect x="453.00" y="298.00" width="1.05" height="3.00" fill="#fff" />
<rect x="453.00" y="301.95" width="1.00" height="1.00" fill="#fff" />
<rect x="455.00" y="298.00" width="1.05" height="3.00" fill="#fff" />
<rect x="455.00" y="301.95" width="1.00" height="1.00" fill="#fff" />
<rect x="457.00" y="298.00" width="1.05" height="3.00" fill="#fff" />
<rect x="462.00" y="298.00" width="1.05" height="3.00" fill="#fff" />
<rect x="464.00" y="298.00" width="1.05" height="3.00" fill="#fff" />
<rect x="464.00" y="301.95" width="1.00" height="1.00" fill="#fff" />
<rect x="466.00" y="298.00" width="1.05" height="3.00" fill="#fff" />
<rect x="266.00" y="305.00" width="222.00" height="13.00" fill="#000" />
<rect x="267.00" y="306.20" width="5.10" height="3.20" fill="#fff" />
<rect x="481.90" y="306.20" width="5.10" height="3.20" fill="#fff" />
<rect x="267.00" y="311.10" width="5.10" height="2.90" fill="#fff" />
<rect x="481.90" y="311.10" width="5.10" height="2.90" fill="#fff" />
<rect x="267.00" y="314.90" width="5.10" height="2.00" fill="#fff" />
<rect x="481.90" y="314.90" width="5.10" height="2.00" fill="#fff" />
<rect x="275.00" y="307.40" width="5.20" height="1.40" fill="#fff" />
<rect x="278.80" y="307.40" width="1.40" height="3.20" fill="#fff" />
<rect x="276.10" y="311.40" width="6.50" height="3.90" fill="#fff" />
<rect x="276.10" y="310.30" width="1.30" height="1.20" fill="#fff" />
<rect x="281.30" y="309.40" width="1.30" height="2.10" fill="#fff" />
<rect x="275.00" y="315.90" width="10.00" height="1.10" fill="#fff" />
<rect x="283.50" y="307.00" width="1.50" height="10.00" fill="#fff" />
<rect x="473.80" y="307.40" width="5.20" height="1.40" fill="#fff" />
<rect x="473.80" y="307.40" width="1.40" height="3.20" fill="#fff" />
<rect x="471.40" y="311.40" width="6.50" height="3.90" fill="#fff" />
<rect x="476.60" y="310.30" width="1.30" height="1.20" fill="#fff" />
<rect x="471.40" y="309.40" width="1.30" height="2.10" fill="#fff" />
<rect x="469.00" y="315.90" width="10.00" height="1.10" fill="#fff" />
<rect x="469.00" y="307.00" width="1.50" height="10.00" fill="#fff" />
<rect x="283.50" y="306.00" width="189.50" height="1.15" fill="#fff" />
<rect x="275.00" y="315.95" width="204.00" height="1.15" fill="#fff" />
<rect x="373.00" y="313.00" width="7.50" height="3.50" fill="#fff" />
<rect x="289.00" y="311.00" width="1.05" height="3.90" fill="#fff" />
<rect x="291.00" y="311.00" width="1.05" height="3.90" fill="#fff" />
<rect x="293.00" y="311.00" width="1.05" height="3.90" fill="#fff" />
<rect x="295.00" y="311.00" width="1.05" height="3.90" fill="#fff" />
<rect x="297.00" y="311.00" width="1.05" height="3.90" fill="#fff" />
<rect x="306.00" y="311.00" width="1.05" height="3.90" fill="#fff" />
<rect x="308.00" y="311.00" width="1.05" height="3.90" fill="#fff" />
<rect x="310.00" y="311.00" width="1.05" height="3.90" fill="#fff" />
<rect x="312.00" y="311.00" width="1.05" height="3.90" fill="#fff" />
<rect x="321.00" y="311.00" width="1.05" height="3.90" fill="#fff" />
<rect x="323.00" y="311.00" width="1.05" height="3.90" fill="#fff" />
<rect x="325.00" y="311.00" width="1.05" height="3.90" fill="#fff" />
<rect x="327.00" y="311.00" width="1.05" height="3.90" fill="#fff" />
<rect x="336.00" y="311.00" width="1.05" height="3.90" fill="#fff" />
<rect x="338.00" y="311.00" width="1.05" height="3.90" fill="#fff" />
<rect x="340.00" y="311.00" width="1.05" height="3.90" fill="#fff" />
<rect x="342.00" y="311.00" width="1.05" height="3.90" fill="#fff" />
<rect x="344.00" y="311.00" width="1.05" height="3.90" fill="#fff" />
<rect x="349.00" y="311.00" width="1.05" height="3.90" fill="#fff" />
<rect x="351.00" y="311.00" width="1.05" height="3.90" fill="#fff" />
<rect x="353.00" y="311.00" width="1.05" height="3.90" fill="#fff" />
<rect x="357.00" y="311.00" width="1.05" height="3.90" fill="#fff" />
<rect x="359.00" y="311.00" width="1.05" height="3.90" fill="#fff" />
<rect x="361.00" y="311.00" width="1.05" height="3.90" fill="#fff" />
<rect x="363.00" y="311.00" width="1.05" height="3.90" fill="#fff" />
<rect x="366.00" y="311.00" width="1.05" height="3.90" fill="#fff" />
<rect x="368.00" y="311.00" width="1.05" height="3.90" fill="#fff" />
<rect x="370.00" y="311.00" width="1.05" height="3.90" fill="#fff" />
<rect x="387.00" y="311.00" width="1.05" height="3.90" fill="#fff" />
<rect x="389.00" y="311.00" width="1.05" height="3.90" fill="#fff" />
<rect x="391.00" y="311.00" width="1.05" height="3.90" fill="#fff" />
<rect x="393.00" y="311.00" width="1.05" height="3.90" fill="#fff" />
<rect x="395.00" y="311.00" width="1.05" height="3.90" fill="#fff" />
<rect x="404.00" y="311.00" width="1.05" height="3.90" fill="#fff" />
<rect x="406.00" y="311.00" width="1.05" height="3.90" fill="#fff" />
<rect x="408.00" y="311.00" width="1.05" height="3.90" fill="#fff" />
<rect x="410.00" y="311.00" width="1.05" height="3.90" fill="#fff" />
<rect x="412.00" y="311.00" width="1.05" height="3.90" fill="#fff" />
<rect x="419.00" y="311.00" width="1.05" height="3.90" fill="#fff" />
<rect x="421.00" y="311.00" width="1.05" height="3.90" fill="#fff" />
<rect x="423.00" y="311.00" width="1.05" height="3.90" fill="#fff" />
<rect x="425.00" y="311.00" width="1.05" height="3.90" fill="#fff" />
<rect x="432.00" y="311.00" width="1.05" height="3.90" fill="#fff" />
<rect x="434.00" y="311.00" width="1.05" height="3.90" fill="#fff" />
<rect x="436.00" y="311.00" width="1.05" height="3.90" fill="#fff" />
<rect x="438.00" y="311.00" width="1.05" height="3.90" fill="#fff" />
<rect x="440.00" y="311.00" width="1.05" height="3.90" fill="#fff" />
<rect x="442.00" y="311.00" width="1.05" height="3.90" fill="#fff" />
<rect x="447.00" y="311.00" width="1.05" height="3.90" fill="#fff" />
<rect x="449.00" y="311.00" width="1.05" height="3.90" fill="#fff" />
<rect x="451.00" y="311.00" width="1.05" height="3.90" fill="#fff" />
<rect x="453.00" y="311.00" width="1.05" height="3.90" fill="#fff" />
<rect x="455.00" y="311.00" width="1.05" height="3.90" fill="#fff" />
<rect x="457.00" y="311.00" width="1.05" height="3.90" fill="#fff" />
<rect x="462.00" y="311.00" width="1.05" height="3.90" fill="#fff" />
<rect x="464.00" y="311.00" width="1.05" height="3.90" fill="#fff" />
<rect x="466.00" y="311.00" width="1.05" height="3.90" fill="#fff" />
<rect x="266.00" y="318.00" width="222.00" height="13.00" fill="#000" />
<rect x="267.00" y="319.20" width="5.10" height="3.30" fill="#fff" />
<rect x="481.90" y="319.20" width="5.10" height="3.30" fill="#fff" />
<rect x="267.00" y="324.10" width="5.10" height="3.80" fill="#fff" />
<rect x="481.90" y="324.10" width="5.10" height="3.80" fill="#fff" />
<rect x="267.00" y="328.90" width="5.10" height="1.05" fill="#fff" />
<rect x="481.90" y="328.90" width="5.10" height="1.05" fill="#fff" />
<rect x="275.00" y="320.40" width="5.20" height="1.40" fill="#fff" />
<rect x="278.80" y="320.40" width="1.40" height="3.20" fill="#fff" />
<rect x="276.10" y="324.40" width="6.50" height="3.90" fill="#fff" />
<rect x="276.10" y="323.30" width="1.30" height="1.20" fill="#fff" />
<rect x="281.30" y="322.40" width="1.30" height="2.10" fill="#fff" />
<rect x="275.00" y="328.90" width="10.00" height="1.10" fill="#fff" />
<rect x="283.50" y="320.00" width="1.50" height="10.00" fill="#fff" />
<rect x="473.80" y="320.40" width="5.20" height="1.40" fill="#fff" />
<rect x="473.80" y="320.40" width="1.40" height="3.20" fill="#fff" />
<rect x="471.40" y="324.40" width="6.50" height="3.90" fill="#fff" />
<rect x="476.60" y="323.30" width="1.30" height="1.20" fill="#fff" />
<rect x="471.40" y="322.40" width="1.30" height="2.10" fill="#fff" />
<rect x="469.00" y="328.90" width="10.00" height="1.10" fill="#fff" />
<rect x="469.00" y="320.00" width="1.50" height="10.00" fill="#fff" />
<rect x="283.50" y="319.00" width="189.50" height="1.15" fill="#fff" />
<rect x="373.00" y="320.00" width="7.50" height="3.60" fill="#fff" />
<rect x="289.00" y="325.00" width="1.05" height="3.00" fill="#fff" />
<rect x="291.00" y="325.00" width="1.05" height="3.00" fill="#fff" />
<rect x="291.00" y="328.95" width="1.00" height="1.00" fill="#fff" />
<rect x="293.00" y="325.00" width="1.05" height="3.00" fill="#fff" />
<rect x="293.00" y="328.95" width="1.00" height="1.00" fill="#fff" />
<rect x="295.00" y="325.00" width="1.05" height="3.00" fill="#fff" />
<rect x="295.00" y="328.95" width="1.00" height="1.00" fill="#fff" />
<rect x="297.00" y="325.00" width="1.05" height="3.00" fill="#fff" />
<rect x="306.00" y="325.00" width="1.05" height="3.00" fill="#fff" />
<rect x="308.00" y="325.00" width="1.05" height="3.00" fill="#fff" />
<rect x="308.00" y="328.95" width="1.00" height="1.00" fill="#fff" />
<rect x="310.00" y="325.00" width="1.05" height="3.00" fill="#fff" />
<rect x="310.00" y="328.95" width="1.00" height="1.00" fill="#fff" />
<rect x="312.00" y="325.00" width="1.05" height="3.00" fill="#fff" />
<rect x="321.00" y="325.00" width="1.05" height="3.00" fill="#fff" />
<rect x="323.00" y="325.00" width="1.05" height="3.00" fill="#fff" />
<rect x="323.00" y="328.95" width="1.00" height="1.00" fill="#fff" />
<rect x="325.00" y="325.00" width="1.05" height="3.00" fill="#fff" />
<rect x="325.00" y="328.95" width="1.00" height="1.00" fill="#fff" />
<rect x="327.00" y="325.00" width="1.05" height="3.00" fill="#fff" />
<rect x="336.00" y="325.00" width="1.05" height="3.00" fill="#fff" />
<rect x="338.00" y="325.00" width="1.05" height="3.00" fill="#fff" />
<rect x="338.00" y="328.95" width="1.00" height="1.00" fill="#fff" />
<rect x="340.00" y="325.00" width="1.05" height="3.00" fill="#fff" />
<rect x="340.00" y="328.95" width="1.00" height="1.00" fill="#fff" />
<rect x="342.00" y="325.00" width="1.05" height="3.00" fill="#fff" />
<rect x="342.00" y="328.95" width="1.00" height="1.00" fill="#fff" />
<rect x="344.00" y="325.00" width="1.05" height="3.00" fill="#fff" />
<rect x="349.00" y="325.00" width="1.05" height="3.00" fill="#fff" />
<rect x="351.00" y="325.00" width="1.05" height="3.00" fill="#fff" />
<rect x="351.00" y="328.95" width="1.00" height="1.00" fill="#fff" />
<rect x="353.00" y="325.00" width="1.05" height="3.00" fill="#fff" />
<rect x="357.00" y="325.00" width="1.05" height="3.00" fill="#fff" />
<rect x="359.00" y="325.00" width="1.05" height="3.00" fill="#fff" />
<rect x="359.00" y="328.95" width="1.00" height="1.00" fill="#fff" />
<rect x="361.00" y="325.00" width="1.05" height="3.00" fill="#fff" />
<rect x="361.00" y="328.95" width="1.00" height="1.00" fill="#fff" />
<rect x="363.00" y="325.00" width="1.05" height="3.00" fill="#fff" />
<rect x="366.00" y="325.00" width="1.05" height="3.00" fill="#fff" />
<rect x="368.00" y="325.00" width="1.05" height="3.00" fill="#fff" />
<rect x="368.00" y="328.95" width="1.00" height="1.00" fill="#fff" />
<rect x="370.00" y="325.00" width="1.05" height="3.00" fill="#fff" />
<rect x="387.00" y="325.00" width="1.05" height="3.00" fill="#fff" />
<rect x="389.00" y="325.00" width="1.05" height="3.00" fill="#fff" />
<rect x="389.00" y="328.95" width="1.00" height="1.00" fill="#fff" />
<rect x="391.00" y="325.00" width="1.05" height="3.00" fill="#fff" />
<rect x="391.00" y="328.95" width="1.00" height="1.00" fill="#fff" />
<rect x="393.00" y="325.00" width="1.05" height="3.00" fill="#fff" />
<rect x="393.00" y="328.95" width="1.00" height="1.00" fill="#fff" />
<rect x="395.00" y="325.00" width="1.05" height="3.00" fill="#fff" />
<rect x="404.00" y="325.00" width="1.05" height="3.00" fill="#fff" />
<rect x="406.00" y="325.00" width="1.05" height="3.00" fill="#fff" />
<rect x="406.00" y="328.95" width="1.00" height="1.00" fill="#fff" />
<rect x="408.00" y="325.00" width="1.05" height="3.00" fill="#fff" />
<rect x="408.00" y="328.95" width="1.00" height="1.00" fill="#fff" />
<rect x="410.00" y="325.00" width="1.05" height="3.00" fill="#fff" />
<rect x="410.00" y="328.95" width="1.00" height="1.00" fill="#fff" />
<rect x="412.00" y="325.00" width="1.05" height="3.00" fill="#fff" />
<rect x="419.00" y="325.00" width="1.05" height="3.00" fill="#fff" />
<rect x="421.00" y="325.00" width="1.05" height="3.00" fill="#fff" />
<rect x="421.00" y="328.95" width="1.00" height="1.00" fill="#fff" />
<rect x="423.00" y="325.00" width="1.05" height="3.00" fill="#fff" />
<rect x="423.00" y="328.95" width="1.00" height="1.00" fill="#fff" />
<rect x="425.00" y="325.00" width="1.05" height="3.00" fill="#fff" />
<rect x="432.00" y="325.00" width="1.05" height="3.00" fill="#fff" />
<rect x="434.00" y="325.00" width="1.05" height="3.00" fill="#fff" />
<rect x="434.00" y="328.95" width="1.00" height="1.00" fill="#fff" />
<rect x="436.00" y="325.00" width="1.05" height="3.00" fill="#fff" />
<rect x="436.00" y="328.95" width="1.00" height="1.00" fill="#fff" />
<rect x="438.00" y="325.00" width="1.05" height="3.00" fill="#fff" />
<rect x="438.00" y="328.95" width="1.00" height="1.00" fill="#fff" />
<rect x="440.00" y="325.00" width="1.05" height="3.00" fill="#fff" />
<rect x="440.00" y="328.95" width="1.00" height="1.00" fill="#fff" />
<rect x="442.00" y="325.00" width="1.05" height="3.00" fill="#fff" />
<rect x="447.00" y="325.00" width="1.05" height="3.00" fill="#fff" />
<rect x="449.00" y="325.00" width="1.05" height="3.00" fill="#fff" />
<rect x="449.00" y="328.95" width="1.00" height="1.00" fill="#fff" />
<rect x="451.00" y="325.00" width="1.05" height="3.00" fill="#fff" />
<rect x="451.00" y="328.95" width="1.00" height="1.00" fill="#fff" />
<rect x="453.00" y="325.00" width="1.05" height="3.00" fill="#fff" />
<rect x="453.00" y="328.95" width="1.00" height="1.00" fill="#fff" />
<rect x="455.00" y="325.00" width="1.05" height="3.00" fill="#fff" />
<rect x="455.00" y="328.95" width="1.00" height="1.00" fill="#fff" />
<rect x="457.00" y="325.00" width="1.05" height="3.00" fill="#fff" />
<rect x="462.00" y="325.00" width="1.05" height="3.00" fill="#fff" />
<rect x="464.00" y="325.00" width="1.05" height="3.00" fill="#fff" />
<rect x="464.00" y="328.95" width="1.00" height="1.00" fill="#fff" />
<rect x="466.00" y="325.00" width="1.05" height="3.00" fill="#fff" />
<rect x="266.00" y="332.00" width="222.00" height="13.00" fill="#000" />
<rect x="267.00" y="333.20" width="5.10" height="3.20" fill="#fff" />
<rect x="481.90" y="333.20" width="5.10" height="3.20" fill="#fff" />
<rect x="267.00" y="338.10" width="5.10" height="2.90" fill="#fff" />
<rect x="481.90" y="338.10" width="5.10" height="2.90" fill="#fff" />
<rect x="267.00" y="341.90" width="5.10" height="2.00" fill="#fff" />
<rect x="481.90" y="341.90" width="5.10" height="2.00" fill="#fff" />
<rect x="275.00" y="334.40" width="5.20" height="1.40" fill="#fff" />
<rect x="278.80" y="334.40" width="1.40" height="3.20" fill="#fff" />
<rect x="276.10" y="338.40" width="6.50" height="3.90" fill="#fff" />
<rect x="276.10" y="337.30" width="1.30" height="1.20" fill="#fff" />
<rect x="281.30" y="336.40" width="1.30" height="2.10" fill="#fff" />
<rect x="275.00" y="342.90" width="10.00" height="1.10" fill="#fff" />
<rect x="283.50" y="334.00" width="1.50" height="10.00" fill="#fff" />
<rect x="473.80" y="334.40" width="5.20" height="1.40" fill="#fff" />
<rect x="473.80" y="334.40" width="1.40" height="3.20" fill="#fff" />
<rect x="471.40" y="338.40" width="6.50" height="3.90" fill="#fff" />
<rect x="476.60" y="337.30" width="1.30" height="1.20" fill="#fff" />
<rect x="471.40" y="336.40" width="1.30" height="2.10" fill="#fff" />
<rect x="469.00" y="342.90" width="10.00" height="1.10" fill="#fff" />
<rect x="469.00" y="334.00" width="1.50" height="10.00" fill="#fff" />
<rect x="283.50" y="333.00" width="189.50" height="1.15" fill="#fff" />
<rect x="275.00" y="342.95" width="204.00" height="1.15" fill="#fff" />
<rect x="373.00" y="340.00" width="7.50" height="3.50" fill="#fff" />
<rect x="289.00" y="338.00" width="1.05" height="3.90" fill="#fff" />
<rect x="291.00" y="338.00" width="1.05" height="3.90" fill="#fff" />
<rect x="293.00" y="338.00" width="1.05" height="3.90" fill="#fff" />
<rect x="295.00" y="338.00" width="1.05" height="3.90" fill="#fff" />
<rect x="297.00" y="338.00" width="1.05" height="3.90" fill="#fff" />
<rect x="306.00" y="338.00" width="1.05" height="3.90" fill="#fff" />
<rect x="308.00" y="338.00" width="1.05" height="3.90" fill="#fff" />
<rect x="310.00" y="338.00" width="1.05" height="3.90" fill="#fff" />
<rect x="312.00" y="338.00" width="1.05" height="3.90" fill="#fff" />
<rect x="321.00" y="338.00" width="1.05" height="3.90" fill="#fff" />
<rect x="323.00" y="338.00" width="1.05" height="3.90" fill="#fff" />
<rect x="325.00" y="338.00" width="1.05" height="3.90" fill="#fff" />
<rect x="327.00" y="338.00" width="1.05" height="3.90" fill="#fff" />
<rect x="336.00" y="338.00" width="1.05" height="3.90" fill="#fff" />
<rect x="338.00" y="338.00" width="1.05" height="3.90" fill="#fff" />
<rect x="340.00" y="338.00" width="1.05" height="3.90" fill="#fff" />
<rect x="342.00" y="338.00" width="1.05" height="3.90" fill="#fff" />
<rect x="344.00" y="338.00" width="1.05" height="3.90" fill="#fff" />
<rect x="349.00" y="338.00" width="1.05" height="3.90" fill="#fff" />
<rect x="351.00" y="338.00" width="1.05" height="3.90" fill="#fff" />
<rect x="353.00" y="338.00" width="1.05" height="3.90" fill="#fff" />
<rect x="357.00" y="338.00" width="1.05" height="3.90" fill="#fff" />
<rect x="359.00" y="338.00" width="1.05" height="3.90" fill="#fff" />
<rect x="361.00" y="338.00" width="1.05" height="3.90" fill="#fff" />
<rect x="363.00" y="338.00" width="1.05" height="3.90" fill="#fff" />
<rect x="366.00" y="338.00" width="1.05" height="3.90" fill="#fff" />
<rect x="368.00" y="338.00" width="1.05" height="3.90" fill="#fff" />
<rect x="370.00" y="338.00" width="1.05" height="3.90" fill="#fff" />
<rect x="387.00" y="338.00" width="1.05" height="3.90" fill="#fff" />
<rect x="389.00" y="338.00" width="1.05" height="3.90" fill="#fff" />
<rect x="391.00" y="338.00" width="1.05" height="3.90" fill="#fff" />
<rect x="393.00" y="338.00" width="1.05" height="3.90" fill="#fff" />
<rect x="395.00" y="338.00" width="1.05" height="3.90" fill="#fff" />
<rect x="404.00" y="338.00" width="1.05" height="3.90" fill="#fff" />
<rect x="406.00" y="338.00" width="1.05" height="3.90" fill="#fff" />
<rect x="408.00" y="338.00" width="1.05" height="3.90" fill="#fff" />
<rect x="410.00" y="338.00" width="1.05" height="3.90" fill="#fff" />
<rect x="412.00" y="338.00" width="1.05" height="3.90" fill="#fff" />
<rect x="419.00" y="338.00" width="1.05" height="3.90" fill="#fff" />
<rect x="421.00" y="338.00" width="1.05" height="3.90" fill="#fff" />
<rect x="423.00" y="338.00" width="1.05" height="3.90" fill="#fff" />
<rect x="425.00" y="338.00" width="1.05" height="3.90" fill="#fff" />
<rect x="432.00" y="338.00" width="1.05" height="3.90" fill="#fff" />
<rect x="434.00" y="338.00" width="1.05" height="3.90" fill="#fff" />
<rect x="436.00" y="338.00" width="1.05" height="3.90" fill="#fff" />
<rect x="438.00" y="338.00" width="1.05" height="3.90" fill="#fff" />
<rect x="440.00" y="338.00" width="1.05" height="3.90" fill="#fff" />
<rect x="442.00" y="338.00" width="1.05" height="3.90" fill="#fff" />
<rect x="447.00" y="338.00" width="1.05" height="3.90" fill="#fff" />
<rect x="449.00" y="338.00" width="1.05" height="3.90" fill="#fff" />
<rect x="451.00" y="338.00" width="1.05" height="3.90" fill="#fff" />
<rect x="453.00" y="338.00" width="1.05" height="3.90" fill="#fff" />
<rect x="455.00" y="338.00" width="1.05" height="3.90" fill="#fff" />
<rect x="457.00" y="338.00" width="1.05" height="3.90" fill="#fff" />
<rect x="462.00" y="338.00" width="1.05" height="3.90" fill="#fff" />
<rect x="464.00" y="338.00" width="1.05" height="3.90" fill="#fff" />
<rect x="466.00" y="338.00" width="1.05" height="3.90" fill="#fff" />
<rect x="354.80" y="298.50" width="44.40" height="11.90" fill="#fff" rx="1.5"/>
<text x="377" y="307.2" font-size="11" text-anchor="middle" textLength="37.5" lengthAdjust="spacingAndGlyphs">BANK 1</text>
<rect x="354.80" y="325.40" width="44.40" height="11.40" fill="#fff" rx="1"/>
<text x="377" y="334.4" font-size="11" text-anchor="middle" textLength="37.5" lengthAdjust="spacingAndGlyphs">BANK 0</text>
<rect x="242.00" y="348.80" width="257.00" height="13.30" fill="#000" />
<rect x="243.00" y="349.90" width="5.00" height="3.70" fill="#fff" />
<rect x="243.00" y="354.90" width="5.00" height="3.00" fill="#fff" />
<rect x="243.00" y="358.80" width="5.00" height="1.90" fill="#fff" />
<rect x="251.00" y="350.80" width="6.00" height="1.90" fill="#fff" />
<rect x="255.60" y="350.80" width="1.40" height="4.30" fill="#fff" />
<rect x="252.40" y="354.00" width="5.80" height="4.80" fill="#fff" />
<rect x="253.80" y="354.00" width="1.80" height="1.10" fill="#000" />
<rect x="257.40" y="350.80" width="4.60" height="1.90" fill="#fff" />
<rect x="259.60" y="350.80" width="1.80" height="9.30" fill="#fff" />
<rect x="257.40" y="349.90" width="226.30" height="1.00" fill="#fff" />
<rect x="251.00" y="359.80" width="240.70" height="1.10" fill="#fff" />
<rect x="446.20" y="350.80" width="5.20" height="8.80" fill="#fff" />
<rect x="481.20" y="351.00" width="2.50" height="2.40" fill="#fff" />
<rect x="485.20" y="351.00" width="4.50" height="1.20" fill="#fff" />
<rect x="485.20" y="352.20" width="1.50" height="1.40" fill="#fff" />
<rect x="492.90" y="350.20" width="5.20" height="3.70" fill="#fff" />
<rect x="266.00" y="355.70" width="1.05" height="3.10" fill="#fff" />
<rect x="268.00" y="355.70" width="1.05" height="3.10" fill="#fff" />
<rect x="270.00" y="355.70" width="1.05" height="3.10" fill="#fff" />
<rect x="272.00" y="355.70" width="1.05" height="3.10" fill="#fff" />
<rect x="274.00" y="355.70" width="1.05" height="3.10" fill="#fff" />
<rect x="283.00" y="355.70" width="1.05" height="3.10" fill="#fff" />
<rect x="285.00" y="355.70" width="1.05" height="3.10" fill="#fff" />
<rect x="287.00" y="355.70" width="1.05" height="3.10" fill="#fff" />
<rect x="289.00" y="355.70" width="1.05" height="3.10" fill="#fff" />
<rect x="298.00" y="355.70" width="1.05" height="3.10" fill="#fff" />
<rect x="300.00" y="355.70" width="1.05" height="3.10" fill="#fff" />
<rect x="302.00" y="355.70" width="1.05" height="3.10" fill="#fff" />
<rect x="311.00" y="355.70" width="1.05" height="3.10" fill="#fff" />
<rect x="313.00" y="355.70" width="1.05" height="3.10" fill="#fff" />
<rect x="315.00" y="355.70" width="1.05" height="3.10" fill="#fff" />
<rect x="317.00" y="355.70" width="1.05" height="3.10" fill="#fff" />
<rect x="319.00" y="355.70" width="1.05" height="3.10" fill="#fff" />
<rect x="321.00" y="355.70" width="1.05" height="3.10" fill="#fff" />
<rect x="326.00" y="355.70" width="1.05" height="3.10" fill="#fff" />
<rect x="328.00" y="355.70" width="1.05" height="3.10" fill="#fff" />
<rect x="330.00" y="355.70" width="1.05" height="3.10" fill="#fff" />
<rect x="332.00" y="355.70" width="1.05" height="3.10" fill="#fff" />
<rect x="334.00" y="355.70" width="1.05" height="3.10" fill="#fff" />
<rect x="336.00" y="355.70" width="1.05" height="3.10" fill="#fff" />
<rect x="338.00" y="355.70" width="1.05" height="3.10" fill="#fff" />
<rect x="343.00" y="355.70" width="1.05" height="3.10" fill="#fff" />
<rect x="345.00" y="355.70" width="1.05" height="3.10" fill="#fff" />
<rect x="396.00" y="355.70" width="1.05" height="3.10" fill="#fff" />
<rect x="398.00" y="355.70" width="1.05" height="3.10" fill="#fff" />
<rect x="400.00" y="355.70" width="1.05" height="3.10" fill="#fff" />
<rect x="402.00" y="355.70" width="1.05" height="3.10" fill="#fff" />
<rect x="409.00" y="355.70" width="1.05" height="3.10" fill="#fff" />
<rect x="411.00" y="355.70" width="1.05" height="3.10" fill="#fff" />
<rect x="413.00" y="355.70" width="1.05" height="3.10" fill="#fff" />
<rect x="415.00" y="355.70" width="1.05" height="3.10" fill="#fff" />
<rect x="417.00" y="355.70" width="1.05" height="3.10" fill="#fff" />
<rect x="419.00" y="355.70" width="1.05" height="3.10" fill="#fff" />
<rect x="424.00" y="355.70" width="1.05" height="3.10" fill="#fff" />
<rect x="426.00" y="355.70" width="1.05" height="3.10" fill="#fff" />
<rect x="428.00" y="355.70" width="1.05" height="3.10" fill="#fff" />
<rect x="430.00" y="355.70" width="1.05" height="3.10" fill="#fff" />
<rect x="432.00" y="355.70" width="1.05" height="3.10" fill="#fff" />
<rect x="434.00" y="355.70" width="1.05" height="3.10" fill="#fff" />
<rect x="439.00" y="355.70" width="1.05" height="3.10" fill="#fff" />
<rect x="441.00" y="355.70" width="1.05" height="3.10" fill="#fff" />
<rect x="443.00" y="355.70" width="1.05" height="3.10" fill="#fff" />
<rect x="445.00" y="355.70" width="1.05" height="3.10" fill="#fff" />
<rect x="458.00" y="355.70" width="1.05" height="3.10" fill="#fff" />
<rect x="460.00" y="355.70" width="1.05" height="3.10" fill="#fff" />
<rect x="462.00" y="355.70" width="1.05" height="3.10" fill="#fff" />
<rect x="464.00" y="355.70" width="1.05" height="3.10" fill="#fff" />
<rect x="466.00" y="355.70" width="1.05" height="3.10" fill="#fff" />
<rect x="475.00" y="355.70" width="1.05" height="3.10" fill="#fff" />
<rect x="477.00" y="355.70" width="1.05" height="3.10" fill="#fff" />
<rect x="479.00" y="355.70" width="1.05" height="3.10" fill="#fff" />
<rect x="242.00" y="365.10" width="257.00" height="13.90" fill="#000" />
<rect x="243.00" y="366.20" width="5.00" height="3.70" fill="#fff" />
<rect x="243.00" y="371.20" width="5.00" height="3.00" fill="#fff" />
<rect x="243.00" y="375.10" width="5.00" height="1.90" fill="#fff" />
<rect x="251.00" y="367.10" width="6.00" height="1.90" fill="#fff" />
<rect x="255.60" y="367.10" width="1.40" height="4.30" fill="#fff" />
<rect x="252.40" y="370.30" width="5.80" height="4.80" fill="#fff" />
<rect x="253.80" y="370.30" width="1.80" height="1.10" fill="#000" />
<rect x="257.40" y="367.10" width="4.60" height="1.90" fill="#fff" />
<rect x="259.60" y="367.10" width="1.80" height="9.30" fill="#fff" />
<rect x="257.40" y="366.20" width="226.30" height="1.00" fill="#fff" />
<rect x="251.00" y="376.80" width="240.70" height="1.10" fill="#fff" />
<rect x="446.20" y="367.10" width="5.20" height="8.80" fill="#fff" />
<rect x="484.70" y="368.90" width="3.50" height="1.40" fill="#fff" />
<rect x="482.20" y="370.00" width="7.50" height="5.80" fill="#fff" />
<rect x="483.40" y="370.30" width="5.20" height="3.00" fill="#000" />
<rect x="484.70" y="368.90" width="3.50" height="2.80" fill="#fff" />
<rect x="492.90" y="369.30" width="5.20" height="1.70" fill="#fff" />
<rect x="492.90" y="371.80" width="5.20" height="2.50" fill="#fff" />
<rect x="492.90" y="375.80" width="5.20" height="1.50" fill="#fff" />
<rect x="266.00" y="372.00" width="1.05" height="3.10" fill="#fff" />
<rect x="268.00" y="372.00" width="1.05" height="3.10" fill="#fff" />
<rect x="270.00" y="372.00" width="1.05" height="3.10" fill="#fff" />
<rect x="272.00" y="372.00" width="1.05" height="3.10" fill="#fff" />
<rect x="274.00" y="372.00" width="1.05" height="3.10" fill="#fff" />
<rect x="283.00" y="372.00" width="1.05" height="3.10" fill="#fff" />
<rect x="285.00" y="372.00" width="1.05" height="3.10" fill="#fff" />
<rect x="287.00" y="372.00" width="1.05" height="3.10" fill="#fff" />
<rect x="289.00" y="372.00" width="1.05" height="3.10" fill="#fff" />
<rect x="298.00" y="372.00" width="1.05" height="3.10" fill="#fff" />
<rect x="300.00" y="372.00" width="1.05" height="3.10" fill="#fff" />
<rect x="302.00" y="372.00" width="1.05" height="3.10" fill="#fff" />
<rect x="311.00" y="372.00" width="1.05" height="3.10" fill="#fff" />
<rect x="313.00" y="372.00" width="1.05" height="3.10" fill="#fff" />
<rect x="315.00" y="372.00" width="1.05" height="3.10" fill="#fff" />
<rect x="317.00" y="372.00" width="1.05" height="3.10" fill="#fff" />
<rect x="319.00" y="372.00" width="1.05" height="3.10" fill="#fff" />
<rect x="321.00" y="372.00" width="1.05" height="3.10" fill="#fff" />
<rect x="326.00" y="372.00" width="1.05" height="3.10" fill="#fff" />
<rect x="328.00" y="372.00" width="1.05" height="3.10" fill="#fff" />
<rect x="330.00" y="372.00" width="1.05" height="3.10" fill="#fff" />
<rect x="332.00" y="372.00" width="1.05" height="3.10" fill="#fff" />
<rect x="334.00" y="372.00" width="1.05" height="3.10" fill="#fff" />
<rect x="336.00" y="372.00" width="1.05" height="3.10" fill="#fff" />
<rect x="338.00" y="372.00" width="1.05" height="3.10" fill="#fff" />
<rect x="343.00" y="372.00" width="1.05" height="3.10" fill="#fff" />
<rect x="345.00" y="372.00" width="1.05" height="3.10" fill="#fff" />
<rect x="396.00" y="372.00" width="1.05" height="3.10" fill="#fff" />
<rect x="398.00" y="372.00" width="1.05" height="3.10" fill="#fff" />
<rect x="400.00" y="372.00" width="1.05" height="3.10" fill="#fff" />
<rect x="402.00" y="372.00" width="1.05" height="3.10" fill="#fff" />
<rect x="409.00" y="372.00" width="1.05" height="3.10" fill="#fff" />
<rect x="411.00" y="372.00" width="1.05" height="3.10" fill="#fff" />
<rect x="413.00" y="372.00" width="1.05" height="3.10" fill="#fff" />
<rect x="415.00" y="372.00" width="1.05" height="3.10" fill="#fff" />
<rect x="417.00" y="372.00" width="1.05" height="3.10" fill="#fff" />
<rect x="419.00" y="372.00" width="1.05" height="3.10" fill="#fff" />
<rect x="424.00" y="372.00" width="1.05" height="3.10" fill="#fff" />
<rect x="426.00" y="372.00" width="1.05" height="3.10" fill="#fff" />
<rect x="428.00" y="372.00" width="1.05" height="3.10" fill="#fff" />
<rect x="430.00" y="372.00" width="1.05" height="3.10" fill="#fff" />
<rect x="432.00" y="372.00" width="1.05" height="3.10" fill="#fff" />
<rect x="434.00" y="372.00" width="1.05" height="3.10" fill="#fff" />
<rect x="439.00" y="372.00" width="1.05" height="3.10" fill="#fff" />
<rect x="441.00" y="372.00" width="1.05" height="3.10" fill="#fff" />
<rect x="443.00" y="372.00" width="1.05" height="3.10" fill="#fff" />
<rect x="445.00" y="372.00" width="1.05" height="3.10" fill="#fff" />
<rect x="458.00" y="372.00" width="1.05" height="3.10" fill="#fff" />
<rect x="460.00" y="372.00" width="1.05" height="3.10" fill="#fff" />
<rect x="462.00" y="372.00" width="1.05" height="3.10" fill="#fff" />
<rect x="464.00" y="372.00" width="1.05" height="3.10" fill="#fff" />
<rect x="466.00" y="372.00" width="1.05" height="3.10" fill="#fff" />
<rect x="475.00" y="372.00" width="1.05" height="3.10" fill="#fff" />
<rect x="477.00" y="372.00" width="1.05" height="3.10" fill="#fff" />
<rect x="479.00" y="372.00" width="1.05" height="3.10" fill="#fff" />
<rect x="346.80" y="348.00" width="47.40" height="14.40" rx="1.7" fill="#000"/>
<rect x="348.20" y="349.80" width="43.70" height="10.60" rx="0.9" fill="#fff"/>
<text x="370.05" y="359.04" font-size="11" text-anchor="middle" textLength="38" lengthAdjust="spacingAndGlyphs">BANK 3</text>
<rect x="346.80" y="365.10" width="47.40" height="14.50" rx="1.7" fill="#000"/>
<rect x="348.20" y="366.90" width="43.70" height="10.40" rx="0.9" fill="#fff"/>
<text x="370.05" y="375.44" font-size="11" text-anchor="middle" textLength="38" lengthAdjust="spacingAndGlyphs">BANK 2</text>
<rect x="223.00" y="362.00" width="11.00" height="14.80" fill="#000" />
<rect x="228.00" y="363.00" width="1.00" height="12.80" fill="#fff" />
<rect x="224.00" y="367.00" width="9.00" height="1.00" fill="#fff" />
<rect x="224.00" y="372.00" width="9.00" height="1.00" fill="#fff" />
<rect x="225.00" y="364.00" width="2.00" height="2.00" fill="#fff" />
<polygon points="209.20,372.00 218.70,369.75 223.20,369.60 223.20,368.40 218.70,368.25 209.20,366.00" fill="#000"/>
<rect x="182.60" y="362.00" width="28.60" height="14.40" rx="1.7" fill="#000"/>
<rect x="184.30" y="363.70" width="24.90" height="10.70" rx="0.9" fill="#fff"/>
<polygon points="208.70,370.70 217.20,369.00 208.70,367.30" fill="#fff"/>
<text x="196.75" y="372.99" font-size="11" text-anchor="middle">JP3</text>
<text x="235.6" y="361.6" font-size="10.5" text-anchor="middle">2</text>
<rect x="481.00" y="392.00" width="11.00" height="15.00" fill="#000" />
<rect x="486.00" y="393.00" width="1.00" height="13.00" fill="#fff" />
<rect x="482.00" y="397.00" width="9.00" height="1.00" fill="#fff" />
<rect x="482.00" y="402.00" width="9.00" height="1.00" fill="#fff" />
<rect x="483.00" y="394.00" width="2.00" height="2.00" fill="#fff" />
<polygon points="466.60,402.40 476.10,400.15 481.20,400.00 481.20,398.80 476.10,398.65 466.60,396.40" fill="#000"/>
<rect x="440.40" y="392.40" width="28.20" height="14.20" rx="1.7" fill="#000"/>
<rect x="442.10" y="394.10" width="24.50" height="10.50" rx="0.9" fill="#fff"/>
<polygon points="466.10,401.10 474.60,399.40 466.10,397.70" fill="#fff"/>
<text x="454.35" y="403.29" font-size="11" text-anchor="middle">JP1</text>
<text x="492.6" y="391.8" font-size="10.5" text-anchor="middle">2</text>
<rect x="494.00" y="304.00" width="11.00" height="39.00" fill="#000" />
<rect x="499.00" y="305.00" width="1.00" height="37.00" fill="#fff" />
<rect x="495.00" y="310.00" width="9.00" height="1.00" fill="#fff" />
<rect x="495.00" y="314.00" width="9.00" height="1.00" fill="#fff" />
<rect x="495.00" y="319.00" width="9.00" height="1.00" fill="#fff" />
<rect x="495.00" y="324.00" width="9.00" height="1.00" fill="#fff" />
<rect x="495.00" y="329.00" width="9.00" height="1.00" fill="#fff" />
<rect x="495.00" y="334.00" width="9.00" height="1.00" fill="#fff" />
<rect x="495.00" y="339.00" width="9.00" height="1.00" fill="#fff" />
<rect x="495.50" y="305.80" width="3.20" height="2.00" fill="#fff" />
<rect x="496.30" y="306.40" width="1.60" height="0.80" fill="#000" />
<rect x="512.90" y="286.00" width="11.20" height="94.80" fill="#000" />
<rect x="518.00" y="287.00" width="1.00" height="92.80" fill="#fff" />
<rect x="522.00" y="287.00" width="0.80" height="92.80" fill="#fff" />
<rect x="513.90" y="291.00" width="8.10" height="1.00" fill="#fff" />
<rect x="513.90" y="296.00" width="8.10" height="1.00" fill="#fff" />
<rect x="513.90" y="301.00" width="8.10" height="1.00" fill="#fff" />
<rect x="513.90" y="306.00" width="8.10" height="1.00" fill="#fff" />
<rect x="513.90" y="311.00" width="8.10" height="1.00" fill="#fff" />
<rect x="513.90" y="315.00" width="8.10" height="1.00" fill="#fff" />
<rect x="513.90" y="320.00" width="8.10" height="1.00" fill="#fff" />
<rect x="513.90" y="324.00" width="8.10" height="1.00" fill="#fff" />
<rect x="513.90" y="329.00" width="8.10" height="1.00" fill="#fff" />
<rect x="513.90" y="334.00" width="8.10" height="1.00" fill="#fff" />
<rect x="513.90" y="338.00" width="8.10" height="1.00" fill="#fff" />
<rect x="513.90" y="343.00" width="8.10" height="1.00" fill="#fff" />
<rect x="513.90" y="348.00" width="8.10" height="1.00" fill="#fff" />
<rect x="513.90" y="352.00" width="8.10" height="1.00" fill="#fff" />
<rect x="513.90" y="357.00" width="8.10" height="1.00" fill="#fff" />
<rect x="513.90" y="361.00" width="8.10" height="1.00" fill="#fff" />
<rect x="513.90" y="366.00" width="8.10" height="1.00" fill="#fff" />
<rect x="513.90" y="371.00" width="8.10" height="1.00" fill="#fff" />
<rect x="513.90" y="375.00" width="8.10" height="1.00" fill="#fff" />
<rect x="519.60" y="376.60" width="2.00" height="3.20" fill="#fff" />
<rect x="520.20" y="377.30" width="0.80" height="1.70" fill="#000" />
<rect x="533.10" y="287.20" width="10.90" height="94.80" fill="#000" />
<rect x="538.00" y="288.20" width="1.00" height="92.80" fill="#fff" />
<rect x="534.10" y="288.00" width="8.90" height="1.00" fill="#fff" />
<rect x="534.10" y="293.00" width="8.90" height="1.00" fill="#fff" />
<rect x="534.10" y="297.00" width="8.90" height="1.00" fill="#fff" />
<rect x="534.10" y="302.00" width="8.90" height="1.00" fill="#fff" />
<rect x="534.10" y="307.00" width="8.90" height="1.00" fill="#fff" />
<rect x="534.10" y="311.00" width="8.90" height="1.00" fill="#fff" />
<rect x="534.10" y="316.00" width="8.90" height="1.00" fill="#fff" />
<rect x="534.10" y="320.00" width="8.90" height="1.00" fill="#fff" />
<rect x="534.10" y="325.00" width="8.90" height="1.00" fill="#fff" />
<rect x="534.10" y="330.00" width="8.90" height="1.00" fill="#fff" />
<rect x="534.10" y="335.00" width="8.90" height="1.00" fill="#fff" />
<rect x="534.10" y="340.00" width="8.90" height="1.00" fill="#fff" />
<rect x="534.10" y="344.00" width="8.90" height="1.00" fill="#fff" />
<rect x="534.10" y="349.00" width="8.90" height="1.00" fill="#fff" />
<rect x="534.10" y="353.00" width="8.90" height="1.00" fill="#fff" />
<rect x="534.10" y="358.00" width="8.90" height="1.00" fill="#fff" />
<rect x="534.10" y="363.00" width="8.90" height="1.00" fill="#fff" />
<rect x="534.10" y="367.00" width="8.90" height="1.00" fill="#fff" />
<rect x="534.10" y="372.00" width="8.90" height="1.00" fill="#fff" />
<rect x="534.10" y="377.00" width="8.90" height="1.00" fill="#fff" />
<rect x="540.00" y="378.60" width="2.40" height="1.40" fill="#fff" />
<rect x="555.00" y="299.00" width="10.00" height="80.80" fill="#000" />
<rect x="556.20" y="300.00" width="7.70" height="1.00" fill="#fff" />
<rect x="556.20" y="304.00" width="7.70" height="1.00" fill="#fff" />
<rect x="556.20" y="309.00" width="7.70" height="1.00" fill="#fff" />
<rect x="556.20" y="314.00" width="7.70" height="1.00" fill="#fff" />
<rect x="556.20" y="318.00" width="7.70" height="1.00" fill="#fff" />
<rect x="556.20" y="323.00" width="7.70" height="1.00" fill="#fff" />
<rect x="556.20" y="328.00" width="7.70" height="1.00" fill="#fff" />
<rect x="556.20" y="332.00" width="7.70" height="1.00" fill="#fff" />
<rect x="556.20" y="337.00" width="7.70" height="1.00" fill="#fff" />
<rect x="556.20" y="342.00" width="7.70" height="1.00" fill="#fff" />
<rect x="556.20" y="346.00" width="7.70" height="1.00" fill="#fff" />
<rect x="556.20" y="351.00" width="7.70" height="1.00" fill="#fff" />
<rect x="556.20" y="356.00" width="7.70" height="1.00" fill="#fff" />
<rect x="556.20" y="365.00" width="7.70" height="1.00" fill="#fff" />
<rect x="556.20" y="370.00" width="7.70" height="1.00" fill="#fff" />
<rect x="556.20" y="374.20" width="7.70" height="1.70" fill="#fff" />
<rect x="560.60" y="377.00" width="2.00" height="1.00" fill="#fff" />
<rect x="577.10" y="317.00" width="11.00" height="62.20" fill="#000" />
<rect x="582.00" y="318.00" width="1.00" height="60.20" fill="#fff" />
<rect x="578.10" y="318.00" width="9.00" height="1.00" fill="#fff" />
<rect x="578.10" y="322.00" width="9.00" height="1.00" fill="#fff" />
<rect x="578.10" y="327.00" width="9.00" height="1.00" fill="#fff" />
<rect x="578.10" y="336.00" width="9.00" height="1.00" fill="#fff" />
<rect x="578.10" y="341.00" width="9.00" height="1.00" fill="#fff" />
<rect x="578.10" y="346.00" width="9.00" height="1.00" fill="#fff" />
<rect x="578.10" y="350.00" width="9.00" height="1.00" fill="#fff" />
<rect x="578.10" y="355.00" width="9.00" height="1.00" fill="#fff" />
<rect x="578.10" y="360.00" width="9.00" height="1.00" fill="#fff" />
<rect x="578.10" y="364.00" width="9.00" height="1.00" fill="#fff" />
<rect x="578.10" y="369.00" width="9.00" height="1.00" fill="#fff" />
<rect x="578.10" y="374.00" width="9.00" height="1.00" fill="#fff" />
<rect x="583.60" y="376.20" width="2.40" height="1.20" fill="#fff" />
<polygon points="497.10,288.90 498.50,293.70 498.50,301.20 499.00,301.20 499.00,304.20 501.00,304.20 501.00,301.20 501.50,301.20 501.50,293.70 502.90,288.90" fill="#000"/>
<rect x="487.80" y="277.40" width="26.00" height="13.00" rx="1.7" fill="#000"/>
<rect x="489.00" y="278.40" width="23.30" height="10.50" rx="0.9" fill="#fff"/>
<polygon points="498.40,288.40 500.00,293.10 501.60,288.40" fill="#fff"/>
<text x="500.65" y="287.59" font-size="11" text-anchor="middle" textLength="20" lengthAdjust="spacingAndGlyphs">USB</text>
<polygon points="549.99,286.14 544.92,291.27 543.40,293.73 544.60,295.07 547.20,293.79 552.81,289.26" fill="#000"/>
<rect x="548.40" y="276.50" width="27.40" height="13.20" rx="1.7" fill="#000"/>
<rect x="549.70" y="277.50" width="24.10" height="10.20" rx="0.9" fill="#fff"/>
<polygon points="551.23,286.77 546.95,291.73 552.31,287.96" fill="#fff"/>
<text x="561.75" y="286.54" font-size="11" text-anchor="middle">CN5</text>
<polygon points="572.07,308.08 566.76,312.96 564.43,315.90 565.57,317.30 568.92,315.58 574.73,311.32" fill="#000"/>
<rect x="570.30" y="297.00" width="27.40" height="14.70" rx="1.7" fill="#000"/>
<rect x="571.80" y="298.80" width="23.90" height="10.90" rx="0.9" fill="#fff"/>
<polygon points="573.28,308.76 568.76,313.51 574.29,310.00" fill="#fff"/>
<text x="583.75" y="308.19" font-size="11" text-anchor="middle">CN4</text>
<polygon points="501.00,358.00 506.80,360.00 513.40,360.40 513.40,362.40 506.80,362.60 501.00,364.60" fill="#000"/>
<polygon points="494,353.4 498.8,353.4 502.5,357.0 502.5,365.8 498.8,369.4 494,369.4" fill="#000"/>
<rect x="474.80" y="355.90" width="22.20" height="11.00" fill="#fff" />
<polygon points="495,355.9 498.6,355.9 501.2,358.4 501.2,364.4 498.6,366.9 495,366.9" fill="#fff"/>
<polygon points="500.5,359.4 505.4,361.3 500.5,363.2" fill="#fff"/>
<text x="487.2" y="365.4" font-size="11" text-anchor="middle" textLength="21.2" lengthAdjust="spacingAndGlyphs">CN6</text>
<rect x="507.00" y="382.00" width="83.20" height="20.00" fill="#000" />
<rect x="508.00" y="383.00" width="81.20" height="18.00" fill="#fff" />
<rect x="512.20" y="385.30" width="5.50" height="5.60" fill="#000" />
<rect x="513.10" y="386.20" width="3.70" height="3.80" fill="#fff" />
<rect x="512.20" y="393.20" width="5.50" height="5.60" fill="#000" />
<rect x="513.10" y="394.10" width="3.70" height="3.80" fill="#fff" />
<rect x="519.30" y="385.30" width="6.00" height="5.60" fill="#000" />
<rect x="520.20" y="386.20" width="4.20" height="3.80" fill="#fff" />
<rect x="519.30" y="393.20" width="6.00" height="5.60" fill="#000" />
<rect x="520.20" y="394.10" width="4.20" height="3.80" fill="#fff" />
<rect x="527.10" y="385.30" width="5.40" height="5.60" fill="#000" />
<rect x="528.00" y="386.20" width="3.60" height="3.80" fill="#fff" />
<rect x="527.10" y="393.20" width="5.40" height="5.60" fill="#000" />
<rect x="528.00" y="394.10" width="3.60" height="3.80" fill="#fff" />
<rect x="534.30" y="385.30" width="5.40" height="5.60" fill="#000" />
<rect x="535.20" y="386.20" width="3.60" height="3.80" fill="#fff" />
<rect x="534.30" y="393.20" width="5.40" height="5.60" fill="#000" />
<rect x="535.20" y="394.10" width="3.60" height="3.80" fill="#fff" />
<rect x="541.50" y="385.30" width="5.40" height="5.60" fill="#000" />
<rect x="542.40" y="386.20" width="3.60" height="3.80" fill="#fff" />
<rect x="541.50" y="393.20" width="5.40" height="5.60" fill="#000" />
<rect x="542.40" y="394.10" width="3.60" height="3.80" fill="#fff" />
<rect x="549.00" y="385.30" width="5.60" height="5.60" fill="#000" />
<rect x="549.90" y="386.20" width="3.80" height="3.80" fill="#fff" />
<rect x="549.00" y="393.20" width="5.60" height="5.60" fill="#000" />
<rect x="549.90" y="394.10" width="3.80" height="3.80" fill="#fff" />
<rect x="556.20" y="385.30" width="5.60" height="5.60" fill="#000" />
<rect x="557.10" y="386.20" width="3.80" height="3.80" fill="#fff" />
<rect x="556.20" y="393.20" width="5.60" height="5.60" fill="#000" />
<rect x="557.10" y="394.10" width="3.80" height="3.80" fill="#fff" />
<rect x="563.50" y="385.30" width="6.00" height="5.60" fill="#000" />
<rect x="564.40" y="386.20" width="4.20" height="3.80" fill="#fff" />
<rect x="563.50" y="393.20" width="6.00" height="5.60" fill="#000" />
<rect x="564.40" y="394.10" width="4.20" height="3.80" fill="#fff" />
<rect x="571.30" y="385.30" width="5.50" height="5.60" fill="#000" />
<rect x="572.20" y="386.20" width="3.70" height="3.80" fill="#fff" />
<rect x="571.30" y="393.20" width="5.50" height="5.60" fill="#000" />
<rect x="572.20" y="394.10" width="3.70" height="3.80" fill="#fff" />
<rect x="579.00" y="385.30" width="5.80" height="5.60" fill="#000" />
<rect x="579.90" y="386.20" width="4.00" height="3.80" fill="#fff" />
<rect x="579.00" y="393.20" width="5.80" height="5.60" fill="#000" />
<rect x="579.90" y="394.10" width="4.00" height="3.80" fill="#fff" />
<polygon points="549.80,417.00 548.40,412.20 548.40,404.50 547.90,404.50 547.90,401.50 545.90,401.50 545.90,404.50 545.40,404.50 545.40,412.20 544.00,417.00" fill="#000"/>
<rect x="533.10" y="414.40" width="26.90" height="15.60" rx="1.7" fill="#000"/>
<rect x="534.90" y="417.00" width="23.10" height="11.00" rx="0.9" fill="#fff"/>
<polygon points="548.50,417.50 546.90,412.80 545.30,417.50" fill="#fff"/>
<text x="547.35" y="426.44" font-size="11" text-anchor="middle" textLength="21" lengthAdjust="spacingAndGlyphs">ATX</text>
<rect x="595.20" y="313.00" width="19.00" height="90.00" fill="#000" />
<rect x="596.20" y="314.00" width="17.00" height="88.00" fill="#fff" />
<rect x="597.20" y="318.00" width="5.80" height="5.60" fill="#000" />
<rect x="598.20" y="319.00" width="3.80" height="3.60" fill="#fff" />
<rect x="597.20" y="325.45" width="5.80" height="5.60" fill="#000" />
<rect x="598.20" y="326.45" width="3.80" height="3.60" fill="#fff" />
<rect x="597.20" y="332.90" width="5.80" height="5.60" fill="#000" />
<rect x="598.20" y="333.90" width="3.80" height="3.60" fill="#fff" />
<rect x="597.20" y="340.35" width="5.80" height="5.60" fill="#000" />
<rect x="598.20" y="341.35" width="3.80" height="3.60" fill="#fff" />
<rect x="597.20" y="347.80" width="5.80" height="5.60" fill="#000" />
<rect x="598.20" y="348.80" width="3.80" height="3.60" fill="#fff" />
<rect x="597.20" y="355.25" width="5.80" height="5.60" fill="#000" />
<rect x="598.20" y="356.25" width="3.80" height="3.60" fill="#fff" />
<rect x="597.20" y="362.70" width="5.80" height="5.60" fill="#000" />
<rect x="598.20" y="363.70" width="3.80" height="3.60" fill="#fff" />
<rect x="597.20" y="370.15" width="5.80" height="5.60" fill="#000" />
<rect x="598.20" y="371.15" width="3.80" height="3.60" fill="#fff" />
<rect x="597.20" y="377.60" width="5.80" height="5.60" fill="#000" />
<rect x="598.20" y="378.60" width="3.80" height="3.60" fill="#fff" />
<rect x="597.20" y="385.05" width="5.80" height="5.60" fill="#000" />
<rect x="598.20" y="386.05" width="3.80" height="3.60" fill="#fff" />
<rect x="597.20" y="392.50" width="5.80" height="5.60" fill="#000" />
<rect x="598.20" y="393.50" width="3.80" height="3.60" fill="#fff" />
<rect x="604.10" y="314.40" width="1.90" height="6.00" fill="#000" />
<rect x="604.10" y="321.85" width="1.90" height="6.00" fill="#000" />
<rect x="604.10" y="329.30" width="1.90" height="6.00" fill="#000" />
<rect x="604.10" y="336.75" width="1.90" height="6.00" fill="#000" />
<rect x="604.10" y="344.20" width="1.90" height="6.00" fill="#000" />
<rect x="604.10" y="351.65" width="1.90" height="6.00" fill="#000" />
<rect x="604.10" y="359.10" width="1.90" height="6.00" fill="#000" />
<rect x="604.10" y="366.55" width="1.90" height="6.00" fill="#000" />
<rect x="604.10" y="374.00" width="1.90" height="6.00" fill="#000" />
<rect x="604.10" y="381.45" width="1.90" height="6.00" fill="#000" />
<rect x="604.10" y="388.90" width="1.90" height="6.00" fill="#000" />
<rect x="604.10" y="396.35" width="1.90" height="5.65" fill="#000" />
<rect x="607.00" y="314.00" width="0.80" height="88.00" fill="#000" />
<ellipse cx="610" cy="317.2" rx="2.1" ry="1.9" fill="#000"/>
<rect x="607.40" y="320.00" width="2.60" height="0.80" fill="#000" />
<ellipse cx="610" cy="324.5" rx="2.1" ry="1.9" fill="#000"/>
<rect x="607.40" y="327.30" width="2.60" height="0.80" fill="#000" />
<ellipse cx="610" cy="331.8" rx="2.1" ry="1.9" fill="#000"/>
<rect x="607.40" y="334.60" width="2.60" height="0.80" fill="#000" />
<ellipse cx="610" cy="339.1" rx="2.1" ry="1.9" fill="#000"/>
<rect x="607.40" y="341.90" width="2.60" height="0.80" fill="#000" />
<ellipse cx="610" cy="346.4" rx="2.1" ry="1.9" fill="#000"/>
<rect x="607.40" y="349.20" width="2.60" height="0.80" fill="#000" />
<ellipse cx="610" cy="353.7" rx="2.1" ry="1.9" fill="#000"/>
<rect x="607.40" y="356.50" width="2.60" height="0.80" fill="#000" />
<ellipse cx="610" cy="361.0" rx="2.1" ry="1.9" fill="#000"/>
<rect x="607.40" y="363.80" width="2.60" height="0.80" fill="#000" />
<ellipse cx="610" cy="368.3" rx="2.1" ry="1.9" fill="#000"/>
<rect x="607.40" y="371.10" width="2.60" height="0.80" fill="#000" />
<ellipse cx="610" cy="375.6" rx="2.1" ry="1.9" fill="#000"/>
<rect x="607.40" y="378.40" width="2.60" height="0.80" fill="#000" />
<ellipse cx="610" cy="382.9" rx="2.1" ry="1.9" fill="#000"/>
<rect x="607.40" y="385.70" width="2.60" height="0.80" fill="#000" />
<ellipse cx="610" cy="390.2" rx="2.1" ry="1.9" fill="#000"/>
<rect x="607.40" y="393.00" width="2.60" height="0.80" fill="#000" />
<ellipse cx="610" cy="397.5" rx="2.1" ry="1.9" fill="#000"/>
<rect x="607.40" y="400.30" width="2.60" height="0.80" fill="#000" />
<rect x="597.40" y="313.80" width="2.20" height="1.40" fill="#000" />
<rect x="598.00" y="401.00" width="2.40" height="1.40" fill="#000" />
<polygon points="603.10,356.60 595.10,358.70 588.40,358.70 588.40,360.50 595.10,360.50 603.10,362.60" fill="#000"/>
<rect x="601.40" y="352.40" width="25.80" height="13.40" rx="1.7" fill="#000"/>
<rect x="603.10" y="354.10" width="22.10" height="9.70" rx="0.9" fill="#fff"/>
<polygon points="603.60,357.90 596.60,359.60 603.60,361.30" fill="#fff"/>
<text x="614.15" y="362.89" font-size="11" text-anchor="middle">CN3</text>
<polygon points="628.8,355.8 649.3,355.8 649.3,350.4 650.8,350.4 650.8,348.6 653.4,348.6 653.4,390.8 651.1,390.8 651.1,388.9 649.3,388.9 649.3,385.9 628.8,385.9" fill="#000"/>
<rect x="624.30" y="366.00" width="4.70" height="14.00" fill="#000" />
<rect x="625.20" y="367.00" width="2.40" height="2.60" fill="#fff" />
<rect x="625.20" y="372.60" width="2.60" height="6.20" fill="#fff" />
<rect x="624.00" y="379.00" width="4.80" height="2.00" fill="#fff" />
<rect x="635.20" y="320.10" width="10.80" height="19.70" fill="#000" />
<rect x="636.20" y="324.90" width="4.80" height="9.90" fill="#fff" />
<rect x="640.00" y="321.00" width="1.00" height="17.80" fill="#fff" />
<rect x="641.00" y="324.90" width="4.00" height="1.00" fill="#fff" />
<rect x="641.00" y="328.90" width="4.00" height="1.00" fill="#fff" />
<rect x="641.00" y="334.00" width="4.00" height="1.00" fill="#fff" />
<polygon points="659.82,326.00 655.01,327.37 648.81,327.32 648.81,327.82 645.81,327.80 645.79,329.80 648.79,329.82 648.79,330.32 654.99,330.37 659.78,331.80" fill="#000"/>
<rect x="658.00" y="321.10" width="28.80" height="15.50" rx="1.7" fill="#000"/>
<rect x="659.80" y="322.90" width="24.80" height="11.00" rx="0.9" fill="#fff"/>
<polygon points="660.31,327.30 655.60,328.87 660.29,330.50" fill="#fff"/>
<text x="672.20" y="332.34" font-size="11" text-anchor="middle">CN7</text>
<rect x="624.90" y="282.00" width="11.10" height="24.90" fill="#000" />
<rect x="630.00" y="283.00" width="1.00" height="22.90" fill="#fff" />
<rect x="626.00" y="283.00" width="0.80" height="22.90" fill="#fff" />
<rect x="626.30" y="283.00" width="8.70" height="1.00" fill="#fff" />
<rect x="626.30" y="292.00" width="8.70" height="1.00" fill="#fff" />
<rect x="626.30" y="297.00" width="8.70" height="1.00" fill="#fff" />
<rect x="626.30" y="301.00" width="8.70" height="1.00" fill="#fff" />
<rect x="632.10" y="303.00" width="2.00" height="2.00" fill="#fff" />
<rect x="639.00" y="282.00" width="11.00" height="24.90" fill="#000" />
<rect x="644.00" y="283.00" width="1.00" height="22.90" fill="#fff" />
<rect x="640.40" y="283.00" width="8.60" height="1.00" fill="#fff" />
<rect x="640.40" y="292.00" width="8.60" height="1.00" fill="#fff" />
<rect x="640.40" y="297.00" width="8.60" height="1.00" fill="#fff" />
<rect x="640.40" y="301.00" width="8.60" height="1.00" fill="#fff" />
<rect x="646.20" y="303.00" width="2.00" height="2.00" fill="#fff" />
<polygon points="636.99,273.64 631.92,278.76 629.60,281.93 630.80,283.27 634.19,281.29 639.81,276.76" fill="#000"/>
<rect x="635.40" y="263.30" width="27.20" height="13.90" rx="1.7" fill="#000"/>
<rect x="637.10" y="265.00" width="23.50" height="10.20" rx="0.9" fill="#fff"/>
<polygon points="638.24,274.27 633.95,279.22 639.31,275.46" fill="#fff"/>
<text x="648.85" y="274.04" font-size="11" text-anchor="middle">CN2</text>
<polygon points="664.30,298.80 657.70,300.30 652.80,300.30 652.80,300.80 649.80,300.80 649.80,302.80 652.80,302.80 652.80,303.30 657.70,303.30 664.30,304.80" fill="#000"/>
<rect x="662.60" y="294.60" width="28.00" height="14.40" rx="1.7" fill="#000"/>
<rect x="664.30" y="296.30" width="24.30" height="10.70" rx="0.9" fill="#fff"/>
<polygon points="664.80,300.10 658.30,301.80 664.80,303.50" fill="#fff"/>
<text x="676.45" y="305.59" font-size="11" text-anchor="middle">CN1</text>
</svg>
</body></html>
